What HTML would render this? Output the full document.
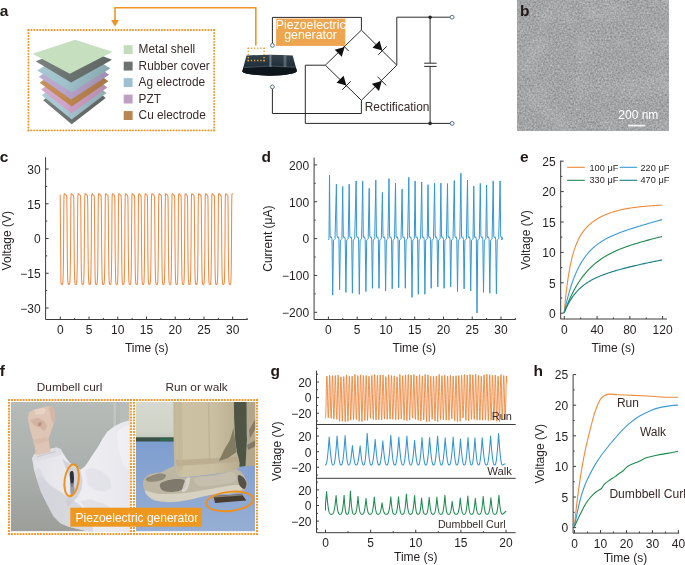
<!DOCTYPE html>
<html><head><meta charset="utf-8"><style>
html,body{margin:0;padding:0;background:#fff;width:685px;height:565px;overflow:hidden}
svg{display:block;font-family:"Liberation Sans",sans-serif;will-change:transform}
</style></head><body>
<svg width="685" height="565" viewBox="0 0 685 565">
<text x="-0.3" y="15.6" font-size="15.5" text-anchor="start" fill="#231818" font-weight="bold" >a</text>
<line x1="28.4" y1="30" x2="214.1" y2="30" stroke="#f09426" stroke-width="1.8" stroke-linecap="round" stroke-dasharray="0.3 2.6"/>
<line x1="28.4" y1="130.4" x2="214.1" y2="130.4" stroke="#f09426" stroke-width="1.8" stroke-linecap="round" stroke-dasharray="0.3 2.6"/>
<line x1="28.4" y1="30" x2="28.4" y2="130.4" stroke="#f09426" stroke-width="1.8" stroke-linecap="round" stroke-dasharray="0.3 2.65"/>
<line x1="214.1" y1="30" x2="214.1" y2="130.4" stroke="#f09426" stroke-width="1.8" stroke-linecap="round" stroke-dasharray="0.3 2.65"/>
<path d="M115,22 L115,7.8 L255.8,7.8 L255.8,45.6" fill="none" stroke="#ef9427" stroke-width="1.6"/>
<path d="M111.1,20.0 L118.9,20.0 L115,26.7 Z" fill="#ef9427"/>
<linearGradient id="lg0" x1="0" y1="0" x2="1" y2="0.3"><stop offset="0" stop-color="#7d8482"/><stop offset="0.55" stop-color="#6c7471"/><stop offset="1" stop-color="#5f6663"/></linearGradient>
<path d="M43.1,100.3 L71.7,124.2 L105.7,97.9 L77.1,74 Z" fill="url(#lg0)"/>
<linearGradient id="lg1" x1="0" y1="0" x2="1" y2="0.3"><stop offset="0" stop-color="#b0ccd5"/><stop offset="0.55" stop-color="#a6c6d0"/><stop offset="1" stop-color="#92aeb7"/></linearGradient>
<path d="M41.9,95.2 L71.7,119.4 L106.5,93.1 L76.7,68.9 Z" fill="url(#lg1)"/>
<linearGradient id="lg2" x1="0" y1="0" x2="1" y2="0.3"><stop offset="0" stop-color="#d5aece"/><stop offset="0.55" stop-color="#d0a3c8"/><stop offset="1" stop-color="#b78fb0"/></linearGradient>
<path d="M41.2,89.5 L71.7,113.5 L107.3,87.6 L76.8,63.6 Z" fill="url(#lg2)"/>
<linearGradient id="lg3" x1="0" y1="0" x2="1" y2="0.3"><stop offset="0" stop-color="#c79665"/><stop offset="0.55" stop-color="#c08850"/><stop offset="1" stop-color="#a87746"/></linearGradient>
<path d="M39.6,82.8 L71.7,106.4 L108.4,81.2 L76.3,57.6 Z" fill="url(#lg3)"/>
<linearGradient id="lg4" x1="0" y1="0" x2="1" y2="0.3"><stop offset="0" stop-color="#bfaed2"/><stop offset="0.55" stop-color="#b7a4cc"/><stop offset="1" stop-color="#a190b3"/></linearGradient>
<path d="M38.8,76.7 L71.1,99.5 L109.2,74.8 L76.9,52 Z" fill="url(#lg4)"/>
<linearGradient id="lg5" x1="0" y1="0" x2="1" y2="0.3"><stop offset="0" stop-color="#aac9d1"/><stop offset="0.55" stop-color="#9fc2cb"/><stop offset="1" stop-color="#8baab2"/></linearGradient>
<path d="M37.2,70.4 L71.7,92.3 L110.4,68.5 L75.9,46.6 Z" fill="url(#lg5)"/>
<linearGradient id="lg6" x1="0" y1="0" x2="1" y2="0.3"><stop offset="0" stop-color="#7e8582"/><stop offset="0.55" stop-color="#6d7572"/><stop offset="1" stop-color="#5f6664"/></linearGradient>
<path d="M35.6,61.3 L71.1,82.5 L112,59.7 L76.5,46 Z" fill="url(#lg6)"/>
<path d="M32.4,53.8 L75.1,39.8 L112.5,51.7 L69.8,73.7 Z" fill="#c6dfbf"/>
<rect x="123.7" y="45.2" width="8.9" height="8.9" fill="#c3dcbd"/>
<text x="138.6" y="53.25" font-size="11.85" text-anchor="start" fill="#3a2a2a" font-weight="normal" >Metal shell</text>
<rect x="123.7" y="61.67" width="8.9" height="8.9" fill="#6b726f"/>
<text x="138.6" y="69.72" font-size="11.85" text-anchor="start" fill="#3a2a2a" font-weight="normal" >Rubber cover</text>
<rect x="123.7" y="78.14" width="8.9" height="8.9" fill="#9dc1d3"/>
<text x="138.6" y="86.19" font-size="11.85" text-anchor="start" fill="#3a2a2a" font-weight="normal" >Ag electrode</text>
<rect x="123.7" y="94.61" width="8.9" height="8.9" fill="#bf9fc4"/>
<text x="138.6" y="102.66" font-size="11.85" text-anchor="start" fill="#3a2a2a" font-weight="normal" >PZT</text>
<rect x="123.7" y="111.08" width="8.9" height="8.9" fill="#bb8550"/>
<text x="138.6" y="119.13" font-size="11.85" text-anchor="start" fill="#3a2a2a" font-weight="normal" >Cu electrode</text>
<defs><linearGradient id="dev" x1="0" y1="0" x2="0" y2="1"><stop offset="0" stop-color="#34444f"/><stop offset="0.5" stop-color="#22313b"/><stop offset="1" stop-color="#141e25"/></linearGradient><linearGradient id="devh" x1="0" y1="0" x2="1" y2="0"><stop offset="0" stop-color="#fff" stop-opacity="0"/><stop offset="0.5" stop-color="#9fb2bd" stop-opacity="0.55"/><stop offset="1" stop-color="#fff" stop-opacity="0"/></linearGradient></defs>
<path d="M246.5,55.6 Q269.6,53.9 292.7,55.6 L296.9,70.9 Q296,74.6 269.4,75.8 Q243,74.6 242.2,71.4 Z" fill="url(#dev)"/>
<path d="M243.6,67.5 Q269.5,64.8 295.8,67.2 L296.9,70.9 Q296,74.6 269.4,75.8 Q243,74.6 242.2,71.4 Z" fill="#0e161c"/>
<path d="M243.6,67.5 Q269.5,64.8 295.8,67.2" fill="none" stroke="#7f8e98" stroke-width="0.6" opacity="0.8"/>
<rect x="268.8" y="55" width="3.2" height="12" fill="url(#devh)"/>
<rect x="283" y="55.5" width="4" height="11.5" fill="url(#devh)" opacity="0.8"/>
<line x1="247.65" y1="48.3" x2="264.75" y2="48.3" stroke="#f0a030" stroke-width="1.5" stroke-linecap="butt" stroke-dasharray="1.3 1.86"/>
<line x1="247.65" y1="60.6" x2="264.75" y2="60.6" stroke="#f0a030" stroke-width="1.5" stroke-linecap="butt" stroke-dasharray="1.3 1.86"/>
<line x1="248.3" y1="47.65" x2="248.3" y2="61.25" stroke="#f0a030" stroke-width="1.5" stroke-linecap="butt" stroke-dasharray="1.3 1.78"/>
<line x1="264.1" y1="47.65" x2="264.1" y2="61.25" stroke="#f0a030" stroke-width="1.5" stroke-linecap="butt" stroke-dasharray="1.3 1.78"/>
<g fill="none" stroke="#2a2a2a" stroke-width="1">
<path d="M272.4,43.4 L272.4,17.4 L361.4,17.4 L361.4,30.1"/>
<path d="M272.4,88.9 L272.4,113.5 L361.4,113.5 L361.4,100.3"/>
<path d="M361.4,30.1 L396.8,65.2 L361.4,100.3 L325.3,65.2 Z"/>
<path d="M325.3,65.2 L305.3,65.2 L305.3,123.4 L452,123.4"/>
<path d="M396.8,65.2 L396.8,17.2 L450,17.2"/>
<path d="M430.1,17.2 L430.1,63.2 M430.1,66.4 L430.1,123.4"/>
<path d="M424.2,63.2 L436.6,63.2 M424.2,66.4 L436.6,66.4"/>
</g>
<circle cx="430.1" cy="17.2" r="1.8" fill="#2a2a2a"/><circle cx="430.1" cy="123.4" r="1.8" fill="#2a2a2a"/>
<circle cx="272.4" cy="45.4" r="1.9" fill="#fff" stroke="#46657a" stroke-width="0.9"/>
<circle cx="272.4" cy="86.9" r="1.9" fill="#fff" stroke="#46657a" stroke-width="0.9"/>
<circle cx="452.1" cy="17.2" r="1.9" fill="#fff" stroke="#46657a" stroke-width="0.9"/>
<circle cx="452.1" cy="123.4" r="1.9" fill="#fff" stroke="#46657a" stroke-width="0.9"/>
<path d="M344.6,46.9 L341.77,56.8 L334.7,49.73 Z" fill="#111"/>
<line x1="348.84" y1="51.14" x2="340.36" y2="42.66" stroke="#222" stroke-width="1"/>
<path d="M382.4,50.6 L372.5,47.77 L379.57,40.7 Z" fill="#111"/>
<line x1="378.16" y1="54.84" x2="386.64" y2="46.36" stroke="#222" stroke-width="1"/>
<path d="M346.4,85.6 L336.5,82.77 L343.57,75.7 Z" fill="#111"/>
<line x1="342.16" y1="89.84" x2="350.64" y2="81.36" stroke="#222" stroke-width="1"/>
<path d="M381.8,81 L378.97,90.9 L371.9,83.83 Z" fill="#111"/>
<line x1="386.04" y1="85.24" x2="377.56" y2="76.76" stroke="#222" stroke-width="1"/>
<rect x="276.1" y="18.6" width="69.2" height="27.3" fill="#eea54f"/>
<text x="310.7" y="28.6" font-size="12.3" text-anchor="middle" fill="#fff" font-weight="normal" >Piezoelectric</text>
<text x="310.6" y="39.2" font-size="12.3" text-anchor="middle" fill="#fff" font-weight="normal" >generator</text>
<text x="364.7" y="111.2" font-size="11.9" text-anchor="start" fill="#3a2a2a" font-weight="normal" >Rectification</text>
<defs><filter id="noise" x="0" y="0" width="100%" height="100%" color-interpolation-filters="sRGB"><feTurbulence type="fractalNoise" baseFrequency="0.55" numOctaves="2" seed="7" result="t"/><feColorMatrix type="matrix" values="0.32 0 0 0 0.475  0.32 0 0 0 0.482  0.32 0 0 0 0.49  0 0 0 0 1" /></filter><filter id="noise2" x="0" y="0" width="100%" height="100%" color-interpolation-filters="sRGB"><feTurbulence type="fractalNoise" baseFrequency="0.04" numOctaves="2" seed="3"/><feColorMatrix type="matrix" values="0 0 0 0 1  0 0 0 0 1  0 0 0 0 1  1.2 0 0 0 -0.55" /></filter></defs>
<rect x="517.6" y="0" width="151.4" height="130.4" filter="url(#noise)"/>
<rect x="517.6" y="0" width="151.4" height="130.4" filter="url(#noise2)" opacity="0.25"/>
<text x="519.9" y="15.6" font-size="15.5" text-anchor="start" fill="#231818" font-weight="bold" >b</text>
<text x="618.3" y="118.8" font-size="12" text-anchor="start" fill="#fff" font-weight="normal" >200 nm</text>
<rect x="628.1" y="124.7" width="16.9" height="1.8" fill="#f4f4f4"/>
<text x="-0.3" y="161.6" font-size="15.5" text-anchor="start" fill="#231818" font-weight="bold" >c</text>
<line x1="45.6" y1="157.2" x2="45.6" y2="319.5" stroke="#3c3c3c" stroke-width="1"/>
<line x1="45.6" y1="169" x2="48.6" y2="169" stroke="#3c3c3c" stroke-width="1"/>
<text x="40.6" y="173.8" font-size="12" text-anchor="end" fill="#231f20" font-weight="normal" >30</text>
<line x1="45.6" y1="203.75" x2="48.6" y2="203.75" stroke="#3c3c3c" stroke-width="1"/>
<text x="40.6" y="208.55" font-size="12" text-anchor="end" fill="#231f20" font-weight="normal" >15</text>
<line x1="45.6" y1="238.5" x2="48.6" y2="238.5" stroke="#3c3c3c" stroke-width="1"/>
<text x="40.6" y="243.3" font-size="12" text-anchor="end" fill="#231f20" font-weight="normal" >0</text>
<line x1="45.6" y1="273.25" x2="48.6" y2="273.25" stroke="#3c3c3c" stroke-width="1"/>
<text x="40.6" y="278.05" font-size="12" text-anchor="end" fill="#231f20" font-weight="normal" >−15</text>
<line x1="45.6" y1="308" x2="48.6" y2="308" stroke="#3c3c3c" stroke-width="1"/>
<text x="40.6" y="312.8" font-size="12" text-anchor="end" fill="#231f20" font-weight="normal" >−30</text>
<line x1="45.6" y1="186.38" x2="47.2" y2="186.38" stroke="#3c3c3c" stroke-width="1"/>
<line x1="45.6" y1="221.12" x2="47.2" y2="221.12" stroke="#3c3c3c" stroke-width="1"/>
<line x1="45.6" y1="255.88" x2="47.2" y2="255.88" stroke="#3c3c3c" stroke-width="1"/>
<line x1="45.6" y1="290.62" x2="47.2" y2="290.62" stroke="#3c3c3c" stroke-width="1"/>
<line x1="45.6" y1="319.5" x2="247.7" y2="319.5" stroke="#3c3c3c" stroke-width="1"/>
<line x1="60.3" y1="319.5" x2="60.3" y2="316.5" stroke="#3c3c3c" stroke-width="1"/>
<text x="60.3" y="334.4" font-size="12" text-anchor="middle" fill="#231f20" font-weight="normal" >0</text>
<line x1="89.03" y1="319.5" x2="89.03" y2="316.5" stroke="#3c3c3c" stroke-width="1"/>
<text x="89.03" y="334.4" font-size="12" text-anchor="middle" fill="#231f20" font-weight="normal" >5</text>
<line x1="117.77" y1="319.5" x2="117.77" y2="316.5" stroke="#3c3c3c" stroke-width="1"/>
<text x="117.77" y="334.4" font-size="12" text-anchor="middle" fill="#231f20" font-weight="normal" >10</text>
<line x1="146.5" y1="319.5" x2="146.5" y2="316.5" stroke="#3c3c3c" stroke-width="1"/>
<text x="146.5" y="334.4" font-size="12" text-anchor="middle" fill="#231f20" font-weight="normal" >15</text>
<line x1="175.23" y1="319.5" x2="175.23" y2="316.5" stroke="#3c3c3c" stroke-width="1"/>
<text x="175.23" y="334.4" font-size="12" text-anchor="middle" fill="#231f20" font-weight="normal" >20</text>
<line x1="203.97" y1="319.5" x2="203.97" y2="316.5" stroke="#3c3c3c" stroke-width="1"/>
<text x="203.97" y="334.4" font-size="12" text-anchor="middle" fill="#231f20" font-weight="normal" >25</text>
<line x1="232.7" y1="319.5" x2="232.7" y2="316.5" stroke="#3c3c3c" stroke-width="1"/>
<text x="232.7" y="334.4" font-size="12" text-anchor="middle" fill="#231f20" font-weight="normal" >30</text>
<line x1="74.67" y1="319.5" x2="74.67" y2="317.9" stroke="#3c3c3c" stroke-width="1"/>
<line x1="103.4" y1="319.5" x2="103.4" y2="317.9" stroke="#3c3c3c" stroke-width="1"/>
<line x1="132.13" y1="319.5" x2="132.13" y2="317.9" stroke="#3c3c3c" stroke-width="1"/>
<line x1="160.87" y1="319.5" x2="160.87" y2="317.9" stroke="#3c3c3c" stroke-width="1"/>
<line x1="189.6" y1="319.5" x2="189.6" y2="317.9" stroke="#3c3c3c" stroke-width="1"/>
<line x1="218.33" y1="319.5" x2="218.33" y2="317.9" stroke="#3c3c3c" stroke-width="1"/>
<line x1="247.07" y1="319.5" x2="247.07" y2="317.9" stroke="#3c3c3c" stroke-width="1"/>
<text x="146.7" y="351.5" font-size="12" text-anchor="middle" fill="#231f20" font-weight="normal" >Time (s)</text>
<text x="0" y="0" font-size="12" text-anchor="middle" fill="#231f20" transform="translate(11,240.7) rotate(-90)">Voltage (V)</text>
<path d="M60.2,194.6 L60.9,281.61 L61,282.62 L61.1,283.29 L61.2,283.75 L61.3,284.05 L61.4,284.26 L61.5,284.4 L61.6,284.5 L61.7,284.56 L61.8,284.59 L61.9,284.6 L62,284.59 L62.1,284.56 L62.2,284.5 L62.3,284.4 L62.4,284.26 L62.5,284.05 L62.6,283.75 L62.7,283.29 L62.8,282.62 L62.9,281.61 L63,280.09 L63.1,277.8 L63.2,274.42 L63.3,269.54 L63.4,262.81 L63.5,254.14 L63.6,243.91 L63.7,226.81 L63.8,209.82 L63.9,200.47 L64,196.34 L64.1,194.68 L64.2,194.04 L64.3,193.82 L64.4,193.76 L64.5,193.77 L64.6,193.82 L64.7,193.88 L64.8,193.95 L64.9,194.03 L65,194.12 L65.1,194.21 L65.2,194.3 L65.3,194.39 L65.4,194.48 L65.5,194.58 L65.6,194.67 L65.7,194.76 L65.8,194.85 L65.9,194.94 L66,195.02 L66.1,195.11 L66.2,195.19 L66.3,195.28 L66.4,195.39 L66.5,195.56 L66.6,195.88 L66.7,196.59 L66.8,198.32 L66.9,202.51 L67,211.88 L67.1,228.89 L67.2,243.91 L67.3,254.14 L67.4,262.81 L67.5,269.54 L67.6,274.42 L67.7,277.8 L67.8,280.09 L67.9,281.61 L68,282.62 L68.1,283.29 L68.2,283.75 L68.3,284.05 L68.4,284.26 L68.5,284.4 L68.6,284.5 L68.7,284.56 L68.8,284.59 L68.9,284.6 L69,284.59 L69.1,284.56 L69.2,284.49 L69.3,284.4 L69.4,284.25 L69.5,284.03 L69.6,283.71 L69.7,283.23 L69.8,282.51 L69.9,281.42 L70,279.78 L70.1,277.3 L70.2,273.63 L70.3,268.34 L70.4,261.09 L70.5,251.88 L70.6,241.26 L70.7,221.67 L70.8,206.54 L70.9,198.88 L71,195.66 L71.1,194.4 L71.2,193.94 L71.3,193.78 L71.4,193.76 L71.5,193.79 L71.6,193.84 L71.7,193.91 L71.8,193.99 L71.9,194.07 L72,194.16 L72.1,194.25 L72.2,194.34 L72.3,194.44 L72.4,194.53 L72.5,194.63 L72.6,194.72 L72.7,194.81 L72.8,194.9 L72.9,194.99 L73,195.07 L73.1,195.16 L73.2,195.24 L73.3,195.35 L73.4,195.49 L73.5,195.74 L73.6,196.3 L73.7,197.62 L73.8,200.9 L73.9,208.59 L74,223.75 L74.1,241.26 L74.2,251.88 L74.3,261.09 L74.4,268.34 L74.5,273.63 L74.6,277.3 L74.7,279.78 L74.8,281.42 L74.9,282.51 L75,283.23 L75.1,283.71 L75.2,284.03 L75.3,284.25 L75.4,284.4 L75.5,284.49 L75.6,284.56 L75.7,284.59 L75.8,284.6 L75.9,284.59 L76,284.56 L76.1,284.49 L76.2,284.4 L76.3,284.25 L76.4,284.03 L76.5,283.71 L76.6,283.23 L76.7,282.51 L76.8,281.42 L76.9,279.78 L77,277.3 L77.1,273.63 L77.2,268.34 L77.3,261.09 L77.4,251.88 L77.5,241.26 L77.6,221.67 L77.7,206.54 L77.8,198.88 L77.9,195.66 L78,194.4 L78.1,193.94 L78.2,193.78 L78.3,193.76 L78.4,193.79 L78.5,193.84 L78.6,193.91 L78.7,193.99 L78.8,194.07 L78.9,194.16 L79,194.25 L79.1,194.34 L79.2,194.44 L79.3,194.53 L79.4,194.63 L79.5,194.72 L79.6,194.81 L79.7,194.9 L79.8,194.99 L79.9,195.07 L80,195.16 L80.1,195.24 L80.2,195.35 L80.3,195.49 L80.4,195.74 L80.5,196.3 L80.6,197.62 L80.7,200.9 L80.8,208.59 L80.9,223.75 L81,241.26 L81.1,251.88 L81.2,261.09 L81.3,268.34 L81.4,273.63 L81.5,277.3 L81.6,279.78 L81.7,281.42 L81.8,282.51 L81.9,283.23 L82,283.71 L82.1,284.03 L82.2,284.25 L82.3,284.4 L82.4,284.49 L82.5,284.56 L82.6,284.59 L82.7,284.6 L82.8,284.59 L82.9,284.56 L83,284.5 L83.1,284.4 L83.2,284.26 L83.3,284.05 L83.4,283.75 L83.5,283.29 L83.6,282.62 L83.7,281.61 L83.8,280.09 L83.9,277.8 L84,274.42 L84.1,269.54 L84.2,262.81 L84.3,254.14 L84.4,243.91 L84.5,226.81 L84.6,209.82 L84.7,200.47 L84.8,196.34 L84.9,194.68 L85,194.04 L85.1,193.82 L85.2,193.76 L85.3,193.77 L85.4,193.82 L85.5,193.88 L85.6,193.95 L85.7,194.03 L85.8,194.12 L85.9,194.21 L86,194.3 L86.1,194.39 L86.2,194.48 L86.3,194.58 L86.4,194.67 L86.5,194.76 L86.6,194.85 L86.7,194.94 L86.8,195.02 L86.9,195.11 L87,195.19 L87.1,195.28 L87.2,195.39 L87.3,195.56 L87.4,195.88 L87.5,196.59 L87.6,198.32 L87.7,202.51 L87.8,211.88 L87.9,228.89 L88,243.91 L88.1,254.14 L88.2,262.81 L88.3,269.54 L88.4,274.42 L88.5,277.8 L88.6,280.09 L88.7,281.61 L88.8,282.62 L88.9,283.29 L89,283.75 L89.1,284.05 L89.2,284.26 L89.3,284.4 L89.4,284.5 L89.5,284.56 L89.6,284.59 L89.7,284.6 L89.8,284.59 L89.9,284.55 L90,284.48 L90.1,284.37 L90.2,284.21 L90.3,283.95 L90.4,283.57 L90.5,283 L90.6,282.12 L90.7,280.76 L90.8,278.67 L90.9,275.47 L91,270.72 L91.1,263.96 L91.2,255 L91.3,244.24 L91.4,226.2 L91.5,208.67 L91.6,199.59 L91.7,195.84 L91.8,194.44 L91.9,193.94 L92,193.78 L92.1,193.76 L92.2,193.79 L92.3,193.85 L92.4,193.93 L92.5,194.01 L92.6,194.1 L92.7,194.19 L92.8,194.29 L92.9,194.38 L93,194.48 L93.1,194.58 L93.2,194.68 L93.3,194.78 L93.4,194.87 L93.5,194.96 L93.6,195.05 L93.7,195.14 L93.8,195.23 L93.9,195.34 L94,195.48 L94.1,195.74 L94.2,196.33 L94.3,197.81 L94.4,201.62 L94.5,210.73 L94.6,228.28 L94.7,244.24 L94.8,255 L94.9,263.96 L95,270.72 L95.1,275.47 L95.2,278.67 L95.3,280.76 L95.4,282.12 L95.5,283 L95.6,283.57 L95.7,283.95 L95.8,284.21 L95.9,284.37 L96,284.48 L96.1,284.55 L96.2,284.59 L96.3,284.6 L96.4,284.59 L96.5,284.56 L96.6,284.5 L96.7,284.4 L96.8,284.26 L96.9,284.05 L97,283.75 L97.1,283.29 L97.2,282.62 L97.3,281.61 L97.4,280.09 L97.5,277.8 L97.6,274.42 L97.7,269.54 L97.8,262.81 L97.9,254.14 L98,243.91 L98.1,226.81 L98.2,209.82 L98.3,200.47 L98.4,196.34 L98.5,194.68 L98.6,194.04 L98.7,193.82 L98.8,193.76 L98.9,193.77 L99,193.82 L99.1,193.88 L99.2,193.95 L99.3,194.03 L99.4,194.12 L99.5,194.21 L99.6,194.3 L99.7,194.39 L99.8,194.48 L99.9,194.58 L100,194.67 L100.1,194.76 L100.2,194.85 L100.3,194.94 L100.4,195.02 L100.5,195.11 L100.6,195.19 L100.7,195.28 L100.8,195.39 L100.9,195.56 L101,195.88 L101.1,196.59 L101.2,198.32 L101.3,202.51 L101.4,211.88 L101.5,228.89 L101.6,243.91 L101.7,254.14 L101.8,262.81 L101.9,269.54 L102,274.42 L102.1,277.8 L102.2,280.09 L102.3,281.61 L102.4,282.62 L102.5,283.29 L102.6,283.75 L102.7,284.05 L102.8,284.26 L102.9,284.4 L103,284.5 L103.1,284.56 L103.2,284.59 L103.3,284.6 L103.4,284.59 L103.5,284.56 L103.6,284.49 L103.7,284.4 L103.8,284.25 L103.9,284.03 L104,283.71 L104.1,283.23 L104.2,282.51 L104.3,281.42 L104.4,279.78 L104.5,277.3 L104.6,273.63 L104.7,268.34 L104.8,261.09 L104.9,251.88 L105,241.26 L105.1,221.67 L105.2,206.54 L105.3,198.88 L105.4,195.66 L105.5,194.4 L105.6,193.94 L105.7,193.78 L105.8,193.76 L105.9,193.79 L106,193.84 L106.1,193.91 L106.2,193.99 L106.3,194.07 L106.4,194.16 L106.5,194.25 L106.6,194.34 L106.7,194.44 L106.8,194.53 L106.9,194.63 L107,194.72 L107.1,194.81 L107.2,194.9 L107.3,194.99 L107.4,195.07 L107.5,195.16 L107.6,195.24 L107.7,195.35 L107.8,195.49 L107.9,195.74 L108,196.3 L108.1,197.62 L108.2,200.9 L108.3,208.59 L108.4,223.75 L108.5,241.26 L108.6,251.88 L108.7,261.09 L108.8,268.34 L108.9,273.63 L109,277.3 L109.1,279.78 L109.2,281.42 L109.3,282.51 L109.4,283.23 L109.5,283.71 L109.6,284.03 L109.7,284.25 L109.8,284.4 L109.9,284.49 L110,284.56 L110.1,284.59 L110.2,284.6 L110.3,284.59 L110.4,284.55 L110.5,284.48 L110.6,284.36 L110.7,284.19 L110.8,283.92 L110.9,283.52 L111,282.91 L111.1,281.96 L111.2,280.49 L111.3,278.22 L111.4,274.73 L111.5,269.54 L111.6,262.21 L111.7,252.65 L111.8,241.42 L111.9,220.8 L112,205.4 L112.1,198.11 L112.2,195.25 L112.3,194.21 L112.4,193.86 L112.5,193.76 L112.6,193.77 L112.7,193.81 L112.8,193.88 L112.9,193.96 L113,194.05 L113.1,194.14 L113.2,194.23 L113.3,194.33 L113.4,194.43 L113.5,194.53 L113.6,194.63 L113.7,194.73 L113.8,194.83 L113.9,194.93 L114,195.02 L114.1,195.11 L114.2,195.2 L114.3,195.29 L114.4,195.42 L114.5,195.63 L114.6,196.08 L114.7,197.2 L114.8,200.12 L114.9,207.45 L115,222.88 L115.1,241.42 L115.2,252.65 L115.3,262.21 L115.4,269.54 L115.5,274.73 L115.6,278.22 L115.7,280.49 L115.8,281.96 L115.9,282.91 L116,283.52 L116.1,283.92 L116.2,284.19 L116.3,284.36 L116.4,284.48 L116.5,284.55 L116.6,284.59 L116.7,284.6 L116.8,284.59 L116.9,284.55 L117,284.48 L117.1,284.36 L117.2,284.19 L117.3,283.92 L117.4,283.52 L117.5,282.91 L117.6,281.96 L117.7,280.49 L117.8,278.22 L117.9,274.73 L118,269.54 L118.1,262.21 L118.2,252.65 L118.3,241.42 L118.4,220.8 L118.5,205.4 L118.6,198.11 L118.7,195.25 L118.8,194.21 L118.9,193.86 L119,193.76 L119.1,193.77 L119.2,193.81 L119.3,193.88 L119.4,193.96 L119.5,194.05 L119.6,194.14 L119.7,194.23 L119.8,194.33 L119.9,194.43 L120,194.53 L120.1,194.63 L120.2,194.73 L120.3,194.83 L120.4,194.93 L120.5,195.02 L120.6,195.11 L120.7,195.2 L120.8,195.29 L120.9,195.42 L121,195.63 L121.1,196.08 L121.2,197.2 L121.3,200.12 L121.4,207.45 L121.5,222.88 L121.6,241.42 L121.7,252.65 L121.8,262.21 L121.9,269.54 L122,274.73 L122.1,278.22 L122.2,280.49 L122.3,281.96 L122.4,282.91 L122.5,283.52 L122.6,283.92 L122.7,284.19 L122.8,284.36 L122.9,284.48 L123,284.55 L123.1,284.59 L123.2,284.6 L123.3,284.59 L123.4,284.55 L123.5,284.49 L123.6,284.38 L123.7,284.22 L123.8,283.98 L123.9,283.62 L124,283.08 L124.1,282.26 L124.2,281 L124.3,279.08 L124.4,276.15 L124.5,271.79 L124.6,265.56 L124.7,257.19 L124.8,246.92 L124.9,231.81 L125,212.5 L125.1,201.46 L125.2,196.62 L125.3,194.74 L125.4,194.05 L125.5,193.81 L125.6,193.76 L125.7,193.78 L125.8,193.83 L125.9,193.9 L126,193.97 L126.1,194.06 L126.2,194.15 L126.3,194.24 L126.4,194.34 L126.5,194.43 L126.6,194.53 L126.7,194.63 L126.8,194.73 L126.9,194.82 L127,194.91 L127.1,195 L127.2,195.09 L127.3,195.18 L127.4,195.27 L127.5,195.38 L127.6,195.55 L127.7,195.88 L127.8,196.66 L127.9,198.61 L128,203.5 L128.1,214.57 L128.2,233.9 L128.3,246.92 L128.4,257.19 L128.5,265.56 L128.6,271.79 L128.7,276.15 L128.8,279.08 L128.9,281 L129,282.26 L129.1,283.08 L129.2,283.62 L129.3,283.98 L129.4,284.22 L129.5,284.38 L129.6,284.49 L129.7,284.55 L129.8,284.59 L129.9,284.6 L130,284.59 L130.1,284.55 L130.2,284.49 L130.3,284.38 L130.4,284.22 L130.5,283.98 L130.6,283.62 L130.7,283.08 L130.8,282.26 L130.9,281 L131,279.08 L131.1,276.15 L131.2,271.79 L131.3,265.56 L131.4,257.19 L131.5,246.92 L131.6,231.81 L131.7,212.5 L131.8,201.46 L131.9,196.62 L132,194.74 L132.1,194.05 L132.2,193.81 L132.3,193.76 L132.4,193.78 L132.5,193.83 L132.6,193.9 L132.7,193.97 L132.8,194.06 L132.9,194.15 L133,194.24 L133.1,194.34 L133.2,194.43 L133.3,194.53 L133.4,194.63 L133.5,194.73 L133.6,194.82 L133.7,194.91 L133.8,195 L133.9,195.09 L134,195.18 L134.1,195.27 L134.2,195.38 L134.3,195.55 L134.4,195.88 L134.5,196.66 L134.6,198.61 L134.7,203.5 L134.8,214.57 L134.9,233.9 L135,246.92 L135.1,257.19 L135.2,265.56 L135.3,271.79 L135.4,276.15 L135.5,279.08 L135.6,281 L135.7,282.26 L135.8,283.08 L135.9,283.62 L136,283.98 L136.1,284.22 L136.2,284.38 L136.3,284.49 L136.4,284.55 L136.5,284.59 L136.6,284.6 L136.7,284.59 L136.8,284.55 L136.9,284.48 L137,284.36 L137.1,284.19 L137.2,283.92 L137.3,283.52 L137.4,282.91 L137.5,281.96 L137.6,280.49 L137.7,278.22 L137.8,274.73 L137.9,269.54 L138,262.21 L138.1,252.65 L138.2,241.42 L138.3,220.8 L138.4,205.4 L138.5,198.11 L138.6,195.25 L138.7,194.21 L138.8,193.86 L138.9,193.76 L139,193.77 L139.1,193.81 L139.2,193.88 L139.3,193.96 L139.4,194.05 L139.5,194.14 L139.6,194.23 L139.7,194.33 L139.8,194.43 L139.9,194.53 L140,194.63 L140.1,194.73 L140.2,194.83 L140.3,194.93 L140.4,195.02 L140.5,195.11 L140.6,195.2 L140.7,195.29 L140.8,195.42 L140.9,195.63 L141,196.08 L141.1,197.2 L141.2,200.12 L141.3,207.45 L141.4,222.88 L141.5,241.42 L141.6,252.65 L141.7,262.21 L141.8,269.54 L141.9,274.73 L142,278.22 L142.1,280.49 L142.2,281.96 L142.3,282.91 L142.4,283.52 L142.5,283.92 L142.6,284.19 L142.7,284.36 L142.8,284.48 L142.9,284.55 L143,284.59 L143.1,284.6 L143.2,284.59 L143.3,284.54 L143.4,284.46 L143.5,284.34 L143.6,284.14 L143.7,283.83 L143.8,283.34 L143.9,282.59 L144,281.4 L144.1,279.51 L144.2,276.54 L144.3,271.96 L144.4,265.2 L144.5,255.96 L144.6,244.6 L144.7,225.5 L144.8,207.45 L144.9,198.73 L145,195.39 L145.1,194.23 L145.2,193.86 L145.3,193.76 L145.4,193.77 L145.5,193.82 L145.6,193.9 L145.7,193.98 L145.8,194.07 L145.9,194.17 L146,194.27 L146.1,194.38 L146.2,194.48 L146.3,194.59 L146.4,194.69 L146.5,194.8 L146.6,194.9 L146.7,194.99 L146.8,195.09 L146.9,195.18 L147,195.28 L147.1,195.41 L147.2,195.63 L147.3,196.11 L147.4,197.35 L147.5,200.75 L147.6,209.51 L147.7,227.59 L147.8,244.6 L147.9,255.96 L148,265.2 L148.1,271.96 L148.2,276.54 L148.3,279.51 L148.4,281.4 L148.5,282.59 L148.6,283.34 L148.7,283.83 L148.8,284.14 L148.9,284.34 L149,284.46 L149.1,284.54 L149.2,284.59 L149.3,284.6 L149.4,284.59 L149.5,284.56 L149.6,284.51 L149.7,284.43 L149.8,284.31 L149.9,284.14 L150,283.9 L150.1,283.56 L150.2,283.05 L150.3,282.33 L150.4,281.26 L150.5,279.7 L150.6,277.42 L150.7,274.15 L150.8,269.54 L150.9,263.32 L151,255.4 L151.1,246.04 L151.2,232.41 L151.3,214.62 L151.4,203.4 L151.5,197.82 L151.6,195.37 L151.7,194.35 L151.8,193.94 L151.9,193.79 L152,193.76 L152.1,193.78 L152.2,193.82 L152.3,193.88 L152.4,193.95 L152.5,194.02 L152.6,194.1 L152.7,194.18 L152.8,194.27 L152.9,194.35 L153,194.44 L153.1,194.53 L153.2,194.61 L153.3,194.7 L153.4,194.79 L153.5,194.87 L153.6,194.95 L153.7,195.03 L153.8,195.11 L153.9,195.18 L154,195.27 L154.1,195.36 L154.2,195.5 L154.3,195.74 L154.4,196.23 L154.5,197.32 L154.6,199.83 L154.7,205.45 L154.8,216.69 L154.9,234.49 L155,246.04 L155.1,255.4 L155.2,263.32 L155.3,269.54 L155.4,274.15 L155.5,277.42 L155.6,279.7 L155.7,281.26 L155.8,282.33 L155.9,283.05 L156,283.56 L156.1,283.9 L156.2,284.14 L156.3,284.31 L156.4,284.43 L156.5,284.51 L156.6,284.56 L156.7,284.59 L156.8,284.6 L156.9,284.59 L157,284.55 L157.1,284.48 L157.2,284.37 L157.3,284.21 L157.4,283.95 L157.5,283.57 L157.6,283 L157.7,282.12 L157.8,280.76 L157.9,278.67 L158,275.47 L158.1,270.72 L158.2,263.96 L158.3,255 L158.4,244.24 L158.5,226.2 L158.6,208.67 L158.7,199.59 L158.8,195.84 L158.9,194.44 L159,193.94 L159.1,193.78 L159.2,193.76 L159.3,193.79 L159.4,193.85 L159.5,193.93 L159.6,194.01 L159.7,194.1 L159.8,194.19 L159.9,194.29 L160,194.38 L160.1,194.48 L160.2,194.58 L160.3,194.68 L160.4,194.78 L160.5,194.87 L160.6,194.96 L160.7,195.05 L160.8,195.14 L160.9,195.23 L161,195.34 L161.1,195.48 L161.2,195.74 L161.3,196.33 L161.4,197.81 L161.5,201.62 L161.6,210.73 L161.7,228.28 L161.8,244.24 L161.9,255 L162,263.96 L162.1,270.72 L162.2,275.47 L162.3,278.67 L162.4,280.76 L162.5,282.12 L162.6,283 L162.7,283.57 L162.8,283.95 L162.9,284.21 L163,284.37 L163.1,284.48 L163.2,284.55 L163.3,284.59 L163.4,284.6 L163.5,284.59 L163.6,284.55 L163.7,284.48 L163.8,284.37 L163.9,284.21 L164,283.95 L164.1,283.57 L164.2,283 L164.3,282.12 L164.4,280.76 L164.5,278.67 L164.6,275.47 L164.7,270.72 L164.8,263.96 L164.9,255 L165,244.24 L165.1,226.2 L165.2,208.67 L165.3,199.59 L165.4,195.84 L165.5,194.44 L165.6,193.94 L165.7,193.78 L165.8,193.76 L165.9,193.79 L166,193.85 L166.1,193.93 L166.2,194.01 L166.3,194.1 L166.4,194.19 L166.5,194.29 L166.6,194.38 L166.7,194.48 L166.8,194.58 L166.9,194.68 L167,194.78 L167.1,194.87 L167.2,194.96 L167.3,195.05 L167.4,195.14 L167.5,195.23 L167.6,195.34 L167.7,195.48 L167.8,195.74 L167.9,196.33 L168,197.81 L168.1,201.62 L168.2,210.73 L168.3,228.28 L168.4,244.24 L168.5,255 L168.6,263.96 L168.7,270.72 L168.8,275.47 L168.9,278.67 L169,280.76 L169.1,282.12 L169.2,283 L169.3,283.57 L169.4,283.95 L169.5,284.21 L169.6,284.37 L169.7,284.48 L169.8,284.55 L169.9,284.59 L170,284.6 L170.1,284.59 L170.2,284.55 L170.3,284.48 L170.4,284.37 L170.5,284.21 L170.6,283.95 L170.7,283.57 L170.8,283 L170.9,282.12 L171,280.76 L171.1,278.67 L171.2,275.47 L171.3,270.72 L171.4,263.96 L171.5,255 L171.6,244.24 L171.7,226.2 L171.8,208.67 L171.9,199.59 L172,195.84 L172.1,194.44 L172.2,193.94 L172.3,193.78 L172.4,193.76 L172.5,193.79 L172.6,193.85 L172.7,193.93 L172.8,194.01 L172.9,194.1 L173,194.19 L173.1,194.29 L173.2,194.38 L173.3,194.48 L173.4,194.58 L173.5,194.68 L173.6,194.78 L173.7,194.87 L173.8,194.96 L173.9,195.05 L174,195.14 L174.1,195.23 L174.2,195.34 L174.3,195.48 L174.4,195.74 L174.5,196.33 L174.6,197.81 L174.7,201.62 L174.8,210.73 L174.9,228.28 L175,244.24 L175.1,255 L175.2,263.96 L175.3,270.72 L175.4,275.47 L175.5,278.67 L175.6,280.76 L175.7,282.12 L175.8,283 L175.9,283.57 L176,283.95 L176.1,284.21 L176.2,284.37 L176.3,284.48 L176.4,284.55 L176.5,284.59 L176.6,284.6 L176.7,284.59 L176.8,284.55 L176.9,284.48 L177,284.36 L177.1,284.19 L177.2,283.92 L177.3,283.52 L177.4,282.91 L177.5,281.96 L177.6,280.49 L177.7,278.22 L177.8,274.73 L177.9,269.54 L178,262.21 L178.1,252.65 L178.2,241.42 L178.3,220.8 L178.4,205.4 L178.5,198.11 L178.6,195.25 L178.7,194.21 L178.8,193.86 L178.9,193.76 L179,193.77 L179.1,193.81 L179.2,193.88 L179.3,193.96 L179.4,194.05 L179.5,194.14 L179.6,194.23 L179.7,194.33 L179.8,194.43 L179.9,194.53 L180,194.63 L180.1,194.73 L180.2,194.83 L180.3,194.93 L180.4,195.02 L180.5,195.11 L180.6,195.2 L180.7,195.29 L180.8,195.42 L180.9,195.63 L181,196.08 L181.1,197.2 L181.2,200.12 L181.3,207.45 L181.4,222.88 L181.5,241.42 L181.6,252.65 L181.7,262.21 L181.8,269.54 L181.9,274.73 L182,278.22 L182.1,280.49 L182.2,281.96 L182.3,282.91 L182.4,283.52 L182.5,283.92 L182.6,284.19 L182.7,284.36 L182.8,284.48 L182.9,284.55 L183,284.59 L183.1,284.6 L183.2,284.59 L183.3,284.55 L183.4,284.47 L183.5,284.35 L183.6,284.15 L183.7,283.86 L183.8,283.41 L183.9,282.71 L184,281.61 L184.1,279.88 L184.2,277.16 L184.3,272.98 L184.4,266.79 L184.5,258.22 L184.6,247.44 L184.7,231.46 L184.8,211.32 L184.9,200.47 L185,196.07 L185.1,194.48 L185.2,193.94 L185.3,193.78 L185.4,193.76 L185.5,193.8 L185.6,193.87 L185.7,193.95 L185.8,194.03 L185.9,194.13 L186,194.23 L186.1,194.33 L186.2,194.43 L186.3,194.54 L186.4,194.64 L186.5,194.74 L186.6,194.84 L186.7,194.94 L186.8,195.03 L186.9,195.13 L187,195.22 L187.1,195.32 L187.2,195.47 L187.3,195.74 L187.4,196.38 L187.5,198.04 L187.6,202.51 L187.7,213.39 L187.8,233.54 L187.9,247.44 L188,258.22 L188.1,266.79 L188.2,272.98 L188.3,277.16 L188.4,279.88 L188.5,281.61 L188.6,282.71 L188.7,283.41 L188.8,283.86 L188.9,284.15 L189,284.35 L189.1,284.47 L189.2,284.55 L189.3,284.59 L189.4,284.6 L189.5,284.59 L189.6,284.56 L189.7,284.49 L189.8,284.4 L189.9,284.25 L190,284.03 L190.1,283.71 L190.2,283.23 L190.3,282.51 L190.4,281.42 L190.5,279.78 L190.6,277.3 L190.7,273.63 L190.8,268.34 L190.9,261.09 L191,251.88 L191.1,241.26 L191.2,221.67 L191.3,206.54 L191.4,198.88 L191.5,195.66 L191.6,194.4 L191.7,193.94 L191.8,193.78 L191.9,193.76 L192,193.79 L192.1,193.84 L192.2,193.91 L192.3,193.99 L192.4,194.07 L192.5,194.16 L192.6,194.25 L192.7,194.34 L192.8,194.44 L192.9,194.53 L193,194.63 L193.1,194.72 L193.2,194.81 L193.3,194.9 L193.4,194.99 L193.5,195.07 L193.6,195.16 L193.7,195.24 L193.8,195.35 L193.9,195.49 L194,195.74 L194.1,196.3 L194.2,197.62 L194.3,200.9 L194.4,208.59 L194.5,223.75 L194.6,241.26 L194.7,251.88 L194.8,261.09 L194.9,268.34 L195,273.63 L195.1,277.3 L195.2,279.78 L195.3,281.42 L195.4,282.51 L195.5,283.23 L195.6,283.71 L195.7,284.03 L195.8,284.25 L195.9,284.4 L196,284.49 L196.1,284.56 L196.2,284.59 L196.3,284.6 L196.4,284.59 L196.5,284.56 L196.6,284.5 L196.7,284.4 L196.8,284.26 L196.9,284.05 L197,283.75 L197.1,283.29 L197.2,282.62 L197.3,281.61 L197.4,280.09 L197.5,277.8 L197.6,274.42 L197.7,269.54 L197.8,262.81 L197.9,254.14 L198,243.91 L198.1,226.81 L198.2,209.82 L198.3,200.47 L198.4,196.34 L198.5,194.68 L198.6,194.04 L198.7,193.82 L198.8,193.76 L198.9,193.77 L199,193.82 L199.1,193.88 L199.2,193.95 L199.3,194.03 L199.4,194.12 L199.5,194.21 L199.6,194.3 L199.7,194.39 L199.8,194.48 L199.9,194.58 L200,194.67 L200.1,194.76 L200.2,194.85 L200.3,194.94 L200.4,195.02 L200.5,195.11 L200.6,195.19 L200.7,195.28 L200.8,195.39 L200.9,195.56 L201,195.88 L201.1,196.59 L201.2,198.32 L201.3,202.51 L201.4,211.88 L201.5,228.89 L201.6,243.91 L201.7,254.14 L201.8,262.81 L201.9,269.54 L202,274.42 L202.1,277.8 L202.2,280.09 L202.3,281.61 L202.4,282.62 L202.5,283.29 L202.6,283.75 L202.7,284.05 L202.8,284.26 L202.9,284.4 L203,284.5 L203.1,284.56 L203.2,284.59 L203.3,284.6 L203.4,284.59 L203.5,284.55 L203.6,284.48 L203.7,284.37 L203.8,284.21 L203.9,283.95 L204,283.57 L204.1,283 L204.2,282.12 L204.3,280.76 L204.4,278.67 L204.5,275.47 L204.6,270.72 L204.7,263.96 L204.8,255 L204.9,244.24 L205,226.2 L205.1,208.67 L205.2,199.59 L205.3,195.84 L205.4,194.44 L205.5,193.94 L205.6,193.78 L205.7,193.76 L205.8,193.79 L205.9,193.85 L206,193.93 L206.1,194.01 L206.2,194.1 L206.3,194.19 L206.4,194.29 L206.5,194.38 L206.6,194.48 L206.7,194.58 L206.8,194.68 L206.9,194.78 L207,194.87 L207.1,194.96 L207.2,195.05 L207.3,195.14 L207.4,195.23 L207.5,195.34 L207.6,195.48 L207.7,195.74 L207.8,196.33 L207.9,197.81 L208,201.62 L208.1,210.73 L208.2,228.28 L208.3,244.24 L208.4,255 L208.5,263.96 L208.6,270.72 L208.7,275.47 L208.8,278.67 L208.9,280.76 L209,282.12 L209.1,283 L209.2,283.57 L209.3,283.95 L209.4,284.21 L209.5,284.37 L209.6,284.48 L209.7,284.55 L209.8,284.59 L209.9,284.6 L210,284.59 L210.1,284.55 L210.2,284.48 L210.3,284.36 L210.4,284.19 L210.5,283.92 L210.6,283.52 L210.7,282.91 L210.8,281.96 L210.9,280.49 L211,278.22 L211.1,274.73 L211.2,269.54 L211.3,262.21 L211.4,252.65 L211.5,241.42 L211.6,220.8 L211.7,205.4 L211.8,198.11 L211.9,195.25 L212,194.21 L212.1,193.86 L212.2,193.76 L212.3,193.77 L212.4,193.81 L212.5,193.88 L212.6,193.96 L212.7,194.05 L212.8,194.14 L212.9,194.23 L213,194.33 L213.1,194.43 L213.2,194.53 L213.3,194.63 L213.4,194.73 L213.5,194.83 L213.6,194.93 L213.7,195.02 L213.8,195.11 L213.9,195.2 L214,195.29 L214.1,195.42 L214.2,195.63 L214.3,196.08 L214.4,197.2 L214.5,200.12 L214.6,207.45 L214.7,222.88 L214.8,241.42 L214.9,252.65 L215,262.21 L215.1,269.54 L215.2,274.73 L215.3,278.22 L215.4,280.49 L215.5,281.96 L215.6,282.91 L215.7,283.52 L215.8,283.92 L215.9,284.19 L216,284.36 L216.1,284.48 L216.2,284.55 L216.3,284.59 L216.4,284.6 L216.5,284.59 L216.6,284.56 L216.7,284.5 L216.8,284.4 L216.9,284.26 L217,284.05 L217.1,283.75 L217.2,283.29 L217.3,282.62 L217.4,281.61 L217.5,280.09 L217.6,277.8 L217.7,274.42 L217.8,269.54 L217.9,262.81 L218,254.14 L218.1,243.91 L218.2,226.81 L218.3,209.82 L218.4,200.47 L218.5,196.34 L218.6,194.68 L218.7,194.04 L218.8,193.82 L218.9,193.76 L219,193.77 L219.1,193.82 L219.2,193.88 L219.3,193.95 L219.4,194.03 L219.5,194.12 L219.6,194.21 L219.7,194.3 L219.8,194.39 L219.9,194.48 L220,194.58 L220.1,194.67 L220.2,194.76 L220.3,194.85 L220.4,194.94 L220.5,195.02 L220.6,195.11 L220.7,195.19 L220.8,195.28 L220.9,195.39 L221,195.56 L221.1,195.88 L221.2,196.59 L221.3,198.32 L221.4,202.51 L221.5,211.88 L221.6,228.89 L221.7,243.91 L221.8,254.14 L221.9,262.81 L222,269.54 L222.1,274.42 L222.2,277.8 L222.3,280.09 L222.4,281.61 L222.5,282.62 L222.6,283.29 L222.7,283.75 L222.8,284.05 L222.9,284.26 L223,284.4 L223.1,284.5 L223.2,284.56 L223.3,284.59 L223.4,284.6 L223.5,284.59 L223.6,284.55 L223.7,284.48 L223.8,284.36 L223.9,284.19 L224,283.92 L224.1,283.52 L224.2,282.91 L224.3,281.96 L224.4,280.49 L224.5,278.22 L224.6,274.73 L224.7,269.54 L224.8,262.21 L224.9,252.65 L225,241.42 L225.1,220.8 L225.2,205.4 L225.3,198.11 L225.4,195.25 L225.5,194.21 L225.6,193.86 L225.7,193.76 L225.8,193.77 L225.9,193.81 L226,193.88 L226.1,193.96 L226.2,194.05 L226.3,194.14 L226.4,194.23 L226.5,194.33 L226.6,194.43 L226.7,194.53 L226.8,194.63 L226.9,194.73 L227,194.83 L227.1,194.93 L227.2,195.02 L227.3,195.11 L227.4,195.2 L227.5,195.29 L227.6,195.42 L227.7,195.63 L227.8,196.08 L227.9,197.2 L228,200.12 L228.1,207.45 L228.2,222.88 L228.3,241.42 L228.4,252.65 L228.5,262.21 L228.6,269.54 L228.7,274.73 L228.8,278.22 L228.9,280.49 L229,281.96 L229.1,282.91 L229.2,283.52 L229.3,283.92 L229.4,284.19 L229.5,284.36 L229.6,284.48 L229.7,284.55 L229.8,284.59 L229.9,284.6 L230,284.59 L230.1,284.55 L230.2,284.48 L230.3,284.36 L230.4,284.19 L230.5,283.92 L230.6,283.52 L230.7,282.91 L230.8,281.96 L230.9,280.49 L231,278.22 L231.1,274.73 L231.2,269.54 L231.3,262.21 L231.4,252.65 L231.5,241.42 L231.6,220.8 L231.7,205.4 L231.8,198.11 L231.9,195.25 L232,194.21 L232.1,193.86 L232.2,193.76 L232.3,193.77 L232.4,193.81 L232.5,193.88 L232.6,193.96 L232.6,194" fill="none" stroke="#ef8a44" stroke-width="1.05" stroke-linejoin="round" />
<text x="261.6" y="161.6" font-size="15.5" text-anchor="start" fill="#231818" font-weight="bold" >d</text>
<line x1="314.1" y1="157.6" x2="314.1" y2="319.5" stroke="#3c3c3c" stroke-width="1"/>
<line x1="314.1" y1="164.9" x2="317.1" y2="164.9" stroke="#3c3c3c" stroke-width="1"/>
<text x="309.1" y="169.7" font-size="12" text-anchor="end" fill="#231f20" font-weight="normal" >200</text>
<line x1="314.1" y1="201.75" x2="317.1" y2="201.75" stroke="#3c3c3c" stroke-width="1"/>
<text x="309.1" y="206.55" font-size="12" text-anchor="end" fill="#231f20" font-weight="normal" >100</text>
<line x1="314.1" y1="238.6" x2="317.1" y2="238.6" stroke="#3c3c3c" stroke-width="1"/>
<text x="309.1" y="243.4" font-size="12" text-anchor="end" fill="#231f20" font-weight="normal" >0</text>
<line x1="314.1" y1="275.45" x2="317.1" y2="275.45" stroke="#3c3c3c" stroke-width="1"/>
<text x="309.1" y="280.25" font-size="12" text-anchor="end" fill="#231f20" font-weight="normal" >−100</text>
<line x1="314.1" y1="312.3" x2="317.1" y2="312.3" stroke="#3c3c3c" stroke-width="1"/>
<text x="309.1" y="317.1" font-size="12" text-anchor="end" fill="#231f20" font-weight="normal" >−200</text>
<line x1="314.1" y1="183.32" x2="315.7" y2="183.32" stroke="#3c3c3c" stroke-width="1"/>
<line x1="314.1" y1="220.17" x2="315.7" y2="220.17" stroke="#3c3c3c" stroke-width="1"/>
<line x1="314.1" y1="257.02" x2="315.7" y2="257.02" stroke="#3c3c3c" stroke-width="1"/>
<line x1="314.1" y1="293.88" x2="315.7" y2="293.88" stroke="#3c3c3c" stroke-width="1"/>
<line x1="314.1" y1="319.5" x2="515.8" y2="319.5" stroke="#3c3c3c" stroke-width="1"/>
<line x1="328.4" y1="319.5" x2="328.4" y2="316.5" stroke="#3c3c3c" stroke-width="1"/>
<text x="328.4" y="334.4" font-size="12" text-anchor="middle" fill="#231f20" font-weight="normal" >0</text>
<line x1="357.17" y1="319.5" x2="357.17" y2="316.5" stroke="#3c3c3c" stroke-width="1"/>
<text x="357.17" y="334.4" font-size="12" text-anchor="middle" fill="#231f20" font-weight="normal" >5</text>
<line x1="385.93" y1="319.5" x2="385.93" y2="316.5" stroke="#3c3c3c" stroke-width="1"/>
<text x="385.93" y="334.4" font-size="12" text-anchor="middle" fill="#231f20" font-weight="normal" >10</text>
<line x1="414.7" y1="319.5" x2="414.7" y2="316.5" stroke="#3c3c3c" stroke-width="1"/>
<text x="414.7" y="334.4" font-size="12" text-anchor="middle" fill="#231f20" font-weight="normal" >15</text>
<line x1="443.47" y1="319.5" x2="443.47" y2="316.5" stroke="#3c3c3c" stroke-width="1"/>
<text x="443.47" y="334.4" font-size="12" text-anchor="middle" fill="#231f20" font-weight="normal" >20</text>
<line x1="472.23" y1="319.5" x2="472.23" y2="316.5" stroke="#3c3c3c" stroke-width="1"/>
<text x="472.23" y="334.4" font-size="12" text-anchor="middle" fill="#231f20" font-weight="normal" >25</text>
<line x1="501" y1="319.5" x2="501" y2="316.5" stroke="#3c3c3c" stroke-width="1"/>
<text x="501" y="334.4" font-size="12" text-anchor="middle" fill="#231f20" font-weight="normal" >30</text>
<line x1="342.78" y1="319.5" x2="342.78" y2="317.9" stroke="#3c3c3c" stroke-width="1"/>
<line x1="371.55" y1="319.5" x2="371.55" y2="317.9" stroke="#3c3c3c" stroke-width="1"/>
<line x1="400.32" y1="319.5" x2="400.32" y2="317.9" stroke="#3c3c3c" stroke-width="1"/>
<line x1="429.08" y1="319.5" x2="429.08" y2="317.9" stroke="#3c3c3c" stroke-width="1"/>
<line x1="457.85" y1="319.5" x2="457.85" y2="317.9" stroke="#3c3c3c" stroke-width="1"/>
<line x1="486.62" y1="319.5" x2="486.62" y2="317.9" stroke="#3c3c3c" stroke-width="1"/>
<line x1="515.38" y1="319.5" x2="515.38" y2="317.9" stroke="#3c3c3c" stroke-width="1"/>
<text x="414.3" y="351.5" font-size="12" text-anchor="middle" fill="#231f20" font-weight="normal" >Time (s)</text>
<text x="0" y="0" font-size="12" text-anchor="middle" fill="#231f20" transform="translate(272.3,238.6) rotate(-90)">Current (μA)</text>
<path d="M328.6,240 L329,238.6 L329.5,175.1 L330.1,236 L330.7,237.6 L331.3,236.8 L332,239.2 L332.7,295.1 L333.5,240.2 L334.3,239.6 L335,238.8 L336.4,184.2 L337,236 L337.6,237.6 L338.2,236.8 L338.9,239.2 L339.6,289.7 L340.4,240.2 L341.2,239.6 L341.9,238.8 L342.7,186.4 L343.3,236 L343.9,237.6 L344.5,236.8 L345.2,239.2 L345.9,292.4 L346.7,240.2 L347.5,239.6 L348.2,238.8 L349.2,184.2 L349.8,236 L350.4,237.6 L351,236.8 L351.7,239.2 L352.4,293.2 L353.2,240.2 L354,239.6 L354.7,238.8 L356.1,180.9 L356.7,236 L357.3,237.6 L357.9,236.8 L358.6,239.2 L359.3,294.3 L360.1,240.2 L360.9,239.6 L361.6,238.8 L362.7,180.9 L363.3,236 L363.9,237.6 L364.5,236.8 L365.2,239.2 L365.9,291.6 L366.7,240.2 L367.5,239.6 L368.2,238.8 L369.2,188.3 L369.8,236 L370.4,237.6 L371,236.8 L371.7,239.2 L372.4,288.3 L373.2,240.2 L374,239.6 L374.7,238.8 L375.8,180.1 L376.4,236 L377,237.6 L377.6,236.8 L378.3,239.2 L379,288.3 L379.8,240.2 L380.6,239.6 L381.3,238.8 L382.4,192.4 L383,236 L383.6,237.6 L384.2,236.8 L384.9,239.2 L385.6,291 L386.4,240.2 L387.2,239.6 L387.9,238.8 L389,178.7 L389.6,236 L390.2,237.6 L390.8,236.8 L391.5,239.2 L392.2,288.8 L393,240.2 L393.8,239.6 L394.5,238.8 L395.5,183.1 L396.1,236 L396.7,237.6 L397.3,236.8 L398,239.2 L398.7,287.7 L399.5,240.2 L400.3,239.6 L401,238.8 L402.1,189.1 L402.7,236 L403.3,237.6 L403.9,236.8 L404.6,239.2 L405.3,288.3 L406.1,240.2 L406.9,239.6 L407.6,238.8 L408.8,177.3 L409.4,236 L410,237.6 L410.6,236.8 L411.3,239.2 L412,297.5 L412.8,240.2 L413.6,239.6 L414.3,238.8 L415.1,180.9 L415.7,236 L416.3,237.6 L416.9,236.8 L417.6,239.2 L418.3,294.3 L419.1,240.2 L419.9,239.6 L420.6,238.8 L421.7,182 L422.3,236 L422.9,237.6 L423.5,236.8 L424.2,239.2 L424.9,294.3 L425.7,240.2 L426.5,239.6 L427.2,238.8 L428,184.7 L428.6,236 L429.2,237.6 L429.8,236.8 L430.5,239.2 L431.2,288.3 L432,240.2 L432.8,239.6 L433.5,238.8 L434.6,183.1 L435.2,236 L435.8,237.6 L436.4,236.8 L437.1,239.2 L437.8,286.9 L438.6,240.2 L439.4,239.6 L440.1,238.8 L440.9,183.1 L441.5,236 L442.1,237.6 L442.7,236.8 L443.4,239.2 L444.1,288.3 L444.9,240.2 L445.7,239.6 L446.4,238.8 L447.5,183.6 L448.1,236 L448.7,237.6 L449.3,236.8 L450,239.2 L450.7,286.9 L451.5,240.2 L452.3,239.6 L453,238.8 L454.3,180.6 L454.9,236 L455.5,237.6 L456.1,236.8 L456.8,239.2 L457.5,291.6 L458.3,240.2 L459.1,239.6 L459.8,238.8 L460.9,173.2 L461.5,236 L462.1,237.6 L462.7,236.8 L463.4,239.2 L464.1,288.8 L464.9,240.2 L465.7,239.6 L466.4,238.8 L467.5,180.1 L468.1,236 L468.7,237.6 L469.3,236.8 L470,239.2 L470.7,291 L471.5,240.2 L472.3,239.6 L473,238.8 L473.8,186.1 L474.4,236 L475,237.6 L475.6,236.8 L476.3,239.2 L477,313 L477.8,240.2 L478.6,239.6 L479.3,238.8 L480.3,183.4 L480.9,236 L481.5,237.6 L482.1,236.8 L482.8,239.2 L483.5,292.4 L484.3,240.2 L485.1,239.6 L485.8,238.8 L486.6,185 L487.2,236 L487.8,237.6 L488.4,236.8 L489.1,239.2 L489.8,293.2 L490.6,240.2 L491.4,239.6 L492.1,238.8 L493.2,180.9 L493.8,236 L494.4,237.6 L495,236.8 L495.7,239.2 L496.4,293.8 L497.2,240.2 L498,239.6 L498.7,238.8 L500.1,180.9 L500.7,236 L501.3,237.6 L501.9,236.8 L502.6,239.2 L501.6,238.6 L501.4,240.1" fill="none" stroke="#3596d2" stroke-width="1.0" stroke-linejoin="round" />
<text x="519.9" y="162.1" font-size="15.5" text-anchor="start" fill="#231818" font-weight="bold" >e</text>
<line x1="560.7" y1="160.6" x2="560.7" y2="319" stroke="#3c3c3c" stroke-width="1"/>
<line x1="560.7" y1="161.2" x2="563.7" y2="161.2" stroke="#3c3c3c" stroke-width="1"/>
<text x="555.7" y="166" font-size="12" text-anchor="end" fill="#231f20" font-weight="normal" >25</text>
<line x1="560.7" y1="191.6" x2="563.7" y2="191.6" stroke="#3c3c3c" stroke-width="1"/>
<text x="555.7" y="196.4" font-size="12" text-anchor="end" fill="#231f20" font-weight="normal" >20</text>
<line x1="560.7" y1="222" x2="563.7" y2="222" stroke="#3c3c3c" stroke-width="1"/>
<text x="555.7" y="226.8" font-size="12" text-anchor="end" fill="#231f20" font-weight="normal" >15</text>
<line x1="560.7" y1="252.4" x2="563.7" y2="252.4" stroke="#3c3c3c" stroke-width="1"/>
<text x="555.7" y="257.2" font-size="12" text-anchor="end" fill="#231f20" font-weight="normal" >10</text>
<line x1="560.7" y1="282.8" x2="563.7" y2="282.8" stroke="#3c3c3c" stroke-width="1"/>
<text x="555.7" y="287.6" font-size="12" text-anchor="end" fill="#231f20" font-weight="normal" >5</text>
<line x1="560.7" y1="313.2" x2="563.7" y2="313.2" stroke="#3c3c3c" stroke-width="1"/>
<text x="555.7" y="318" font-size="12" text-anchor="end" fill="#231f20" font-weight="normal" >0</text>
<line x1="560.7" y1="298" x2="562.3" y2="298" stroke="#3c3c3c" stroke-width="1"/>
<line x1="560.7" y1="267.6" x2="562.3" y2="267.6" stroke="#3c3c3c" stroke-width="1"/>
<line x1="560.7" y1="237.2" x2="562.3" y2="237.2" stroke="#3c3c3c" stroke-width="1"/>
<line x1="560.7" y1="206.8" x2="562.3" y2="206.8" stroke="#3c3c3c" stroke-width="1"/>
<line x1="560.7" y1="176.4" x2="562.3" y2="176.4" stroke="#3c3c3c" stroke-width="1"/>
<line x1="560.5" y1="319" x2="666.9" y2="319" stroke="#3c3c3c" stroke-width="1"/>
<line x1="564.3" y1="319" x2="564.3" y2="316" stroke="#3c3c3c" stroke-width="1"/>
<text x="564.3" y="333.9" font-size="12" text-anchor="middle" fill="#231f20" font-weight="normal" >0</text>
<line x1="597.07" y1="319" x2="597.07" y2="316" stroke="#3c3c3c" stroke-width="1"/>
<text x="597.07" y="333.9" font-size="12" text-anchor="middle" fill="#231f20" font-weight="normal" >40</text>
<line x1="629.83" y1="319" x2="629.83" y2="316" stroke="#3c3c3c" stroke-width="1"/>
<text x="629.83" y="333.9" font-size="12" text-anchor="middle" fill="#231f20" font-weight="normal" >80</text>
<line x1="662.6" y1="319" x2="662.6" y2="316" stroke="#3c3c3c" stroke-width="1"/>
<text x="662.6" y="333.9" font-size="12" text-anchor="middle" fill="#231f20" font-weight="normal" >120</text>
<line x1="580.68" y1="319" x2="580.68" y2="317.4" stroke="#3c3c3c" stroke-width="1"/>
<line x1="613.45" y1="319" x2="613.45" y2="317.4" stroke="#3c3c3c" stroke-width="1"/>
<line x1="646.22" y1="319" x2="646.22" y2="317.4" stroke="#3c3c3c" stroke-width="1"/>
<text x="613.3" y="351.5" font-size="12" text-anchor="middle" fill="#231f20" font-weight="normal" >Time (s)</text>
<text x="0" y="0" font-size="12" text-anchor="middle" fill="#231f20" transform="translate(530.4,240) rotate(-90)">Voltage (V)</text>
<path d="M564.1,313 L564.6,307.46 L565.1,302.3 L565.6,297.5 L566.1,293.03 L566.6,288.86 L567.1,284.97 L567.6,281.34 L568.1,277.94 L568.6,274.76 L569.1,271.79 L569.6,269.01 L570.1,266.4 L570.6,263.94 L571.1,261.64 L571.6,259.48 L572.1,257.44 L572.6,255.52 L573.1,253.71 L573.6,252 L574.1,250.38 L574.6,248.85 L575.1,247.4 L575.6,246.03 L576.1,244.73 L576.6,243.49 L577.1,242.31 L577.6,241.19 L578.1,240.12 L578.6,239.11 L579.1,238.13 L579.6,237.2 L580.1,236.31 L580.6,235.46 L581.1,234.64 L581.6,233.86 L582.1,233.1 L582.6,232.38 L583.1,231.68 L583.6,231.01 L584.1,230.36 L585.1,229.13 L586.1,227.99 L587.1,226.91 L588.1,225.9 L589.1,224.96 L590.1,224.06 L591.1,223.22 L592.1,222.41 L593.1,221.65 L594.1,220.93 L595.1,220.25 L596.1,219.59 L597.1,218.97 L598.1,218.37 L599.1,217.8 L600.1,217.26 L601.1,216.74 L602.1,216.24 L603.1,215.76 L604.1,215.3 L605.1,214.86 L606.1,214.44 L607.1,214.04 L608.1,213.65 L609.1,213.28 L610.1,212.92 L611.1,212.58 L612.1,212.25 L613.1,211.93 L614.1,211.63 L615.1,211.33 L616.1,211.05 L617.1,210.78 L618.1,210.52 L619.1,210.27 L620.1,210.03 L621.1,209.8 L622.1,209.58 L623.1,209.37 L624.1,209.16 L625.1,208.96 L626.1,208.77 L627.1,208.59 L628.1,208.41 L629.1,208.24 L630.1,208.08 L631.1,207.92 L632.1,207.77 L633.1,207.63 L634.1,207.49 L635.1,207.36 L636.1,207.23 L637.1,207.1 L638.1,206.98 L639.1,206.87 L640.1,206.76 L641.1,206.65 L642.1,206.55 L643.1,206.45 L644.1,206.36 L645.1,206.27 L646.1,206.18 L647.1,206.1 L648.1,206.02 L649.1,205.94 L650.1,205.86 L651.1,205.79 L652.1,205.72 L653.1,205.66 L654.1,205.59 L655.1,205.53 L656.1,205.47 L657.1,205.41 L658.1,205.36 L659.1,205.31 L660.1,205.26 L661.1,205.21 L662.1,205.16" fill="none" stroke="#ee8a3a" stroke-width="1.1" stroke-linejoin="round" />
<path d="M564.1,313 L564.6,310.65 L565.1,308.38 L565.6,306.17 L566.1,304.04 L566.6,301.97 L567.1,299.96 L567.6,298.02 L568.1,296.14 L568.6,294.31 L569.1,292.55 L569.6,290.83 L570.1,289.17 L570.6,287.56 L571.1,286 L571.6,284.48 L572.1,283.01 L572.6,281.59 L573.1,280.21 L573.6,278.87 L574.1,277.57 L574.6,276.31 L575.1,275.08 L575.6,273.89 L576.1,272.74 L576.6,271.62 L577.1,270.53 L577.6,269.48 L578.1,268.45 L578.6,267.46 L579.1,266.49 L579.6,265.55 L580.1,264.64 L580.6,263.75 L581.1,262.89 L581.6,262.05 L582.1,261.24 L582.6,260.45 L583.1,259.68 L583.6,258.93 L584.1,258.2 L585.1,256.8 L586.1,255.47 L587.1,254.22 L588.1,253.02 L589.1,251.89 L590.1,250.81 L591.1,249.79 L592.1,248.81 L593.1,247.88 L594.1,246.99 L595.1,246.15 L596.1,245.34 L597.1,244.56 L598.1,243.82 L599.1,243.11 L600.1,242.42 L601.1,241.77 L602.1,241.14 L603.1,240.53 L604.1,239.94 L605.1,239.37 L606.1,238.83 L607.1,238.3 L608.1,237.78 L609.1,237.29 L610.1,236.8 L611.1,236.33 L612.1,235.88 L613.1,235.43 L614.1,235 L615.1,234.57 L616.1,234.16 L617.1,233.75 L618.1,233.36 L619.1,232.97 L620.1,232.59 L621.1,232.21 L622.1,231.84 L623.1,231.48 L624.1,231.12 L625.1,230.77 L626.1,230.43 L627.1,230.08 L628.1,229.75 L629.1,229.41 L630.1,229.08 L631.1,228.76 L632.1,228.43 L633.1,228.11 L634.1,227.8 L635.1,227.48 L636.1,227.17 L637.1,226.86 L638.1,226.55 L639.1,226.25 L640.1,225.94 L641.1,225.64 L642.1,225.34 L643.1,225.04 L644.1,224.75 L645.1,224.45 L646.1,224.16 L647.1,223.86 L648.1,223.57 L649.1,223.28 L650.1,222.99 L651.1,222.7 L652.1,222.41 L653.1,222.12 L654.1,221.84 L655.1,221.55 L656.1,221.27 L657.1,220.98 L658.1,220.7 L659.1,220.41 L660.1,220.13 L661.1,219.85 L662.1,219.56" fill="none" stroke="#3a9bd5" stroke-width="1.1" stroke-linejoin="round" />
<path d="M564.1,313 L564.6,311.61 L565.1,310.25 L565.6,308.91 L566.1,307.61 L566.6,306.33 L567.1,305.08 L567.6,303.85 L568.1,302.66 L568.6,301.48 L569.1,300.33 L569.6,299.2 L570.1,298.1 L570.6,297.02 L571.1,295.96 L571.6,294.93 L572.1,293.91 L572.6,292.92 L573.1,291.95 L573.6,290.99 L574.1,290.06 L574.6,289.14 L575.1,288.24 L575.6,287.37 L576.1,286.5 L576.6,285.66 L577.1,284.83 L577.6,284.02 L578.1,283.23 L578.6,282.45 L579.1,281.68 L579.6,280.94 L580.1,280.2 L580.6,279.48 L581.1,278.78 L581.6,278.09 L582.1,277.41 L582.6,276.74 L583.1,276.09 L583.6,275.45 L584.1,274.82 L585.1,273.6 L586.1,272.43 L587.1,271.3 L588.1,270.21 L589.1,269.16 L590.1,268.14 L591.1,267.17 L592.1,266.23 L593.1,265.32 L594.1,264.44 L595.1,263.59 L596.1,262.78 L597.1,261.98 L598.1,261.22 L599.1,260.48 L600.1,259.76 L601.1,259.07 L602.1,258.4 L603.1,257.75 L604.1,257.12 L605.1,256.51 L606.1,255.91 L607.1,255.34 L608.1,254.78 L609.1,254.23 L610.1,253.7 L611.1,253.19 L612.1,252.69 L613.1,252.2 L614.1,251.72 L615.1,251.26 L616.1,250.81 L617.1,250.37 L618.1,249.94 L619.1,249.52 L620.1,249.1 L621.1,248.7 L622.1,248.31 L623.1,247.92 L624.1,247.54 L625.1,247.17 L626.1,246.81 L627.1,246.46 L628.1,246.11 L629.1,245.76 L630.1,245.42 L631.1,245.09 L632.1,244.77 L633.1,244.45 L634.1,244.13 L635.1,243.82 L636.1,243.51 L637.1,243.21 L638.1,242.91 L639.1,242.62 L640.1,242.32 L641.1,242.04 L642.1,241.75 L643.1,241.47 L644.1,241.2 L645.1,240.92 L646.1,240.65 L647.1,240.38 L648.1,240.12 L649.1,239.85 L650.1,239.59 L651.1,239.33 L652.1,239.07 L653.1,238.82 L654.1,238.57 L655.1,238.32 L656.1,238.07 L657.1,237.82 L658.1,237.57 L659.1,237.33 L660.1,237.09 L661.1,236.84 L662.1,236.6" fill="none" stroke="#1f8a4c" stroke-width="1.1" stroke-linejoin="round" />
<path d="M564.1,313 L564.6,311.78 L565.1,310.6 L565.6,309.46 L566.1,308.36 L566.6,307.3 L567.1,306.27 L567.6,305.27 L568.1,304.3 L568.6,303.37 L569.1,302.47 L569.6,301.59 L570.1,300.74 L570.6,299.92 L571.1,299.13 L571.6,298.35 L572.1,297.61 L572.6,296.88 L573.1,296.18 L573.6,295.5 L574.1,294.83 L574.6,294.19 L575.1,293.57 L575.6,292.96 L576.1,292.38 L576.6,291.8 L577.1,291.25 L577.6,290.71 L578.1,290.19 L578.6,289.68 L579.1,289.18 L579.6,288.7 L580.1,288.23 L580.6,287.77 L581.1,287.32 L581.6,286.89 L582.1,286.46 L582.6,286.05 L583.1,285.65 L583.6,285.26 L584.1,284.87 L585.1,284.13 L586.1,283.43 L587.1,282.76 L588.1,282.11 L589.1,281.5 L590.1,280.91 L591.1,280.34 L592.1,279.79 L593.1,279.27 L594.1,278.76 L595.1,278.27 L596.1,277.8 L597.1,277.34 L598.1,276.9 L599.1,276.47 L600.1,276.06 L601.1,275.65 L602.1,275.26 L603.1,274.87 L604.1,274.5 L605.1,274.14 L606.1,273.78 L607.1,273.43 L608.1,273.09 L609.1,272.76 L610.1,272.43 L611.1,272.11 L612.1,271.79 L613.1,271.48 L614.1,271.18 L615.1,270.88 L616.1,270.59 L617.1,270.3 L618.1,270.01 L619.1,269.73 L620.1,269.45 L621.1,269.18 L622.1,268.91 L623.1,268.64 L624.1,268.38 L625.1,268.12 L626.1,267.86 L627.1,267.6 L628.1,267.35 L629.1,267.1 L630.1,266.85 L631.1,266.61 L632.1,266.37 L633.1,266.13 L634.1,265.89 L635.1,265.66 L636.1,265.42 L637.1,265.19 L638.1,264.96 L639.1,264.74 L640.1,264.51 L641.1,264.29 L642.1,264.06 L643.1,263.85 L644.1,263.63 L645.1,263.41 L646.1,263.2 L647.1,262.98 L648.1,262.77 L649.1,262.56 L650.1,262.35 L651.1,262.15 L652.1,261.94 L653.1,261.74 L654.1,261.54 L655.1,261.34 L656.1,261.14 L657.1,260.94 L658.1,260.74 L659.1,260.55 L660.1,260.36 L661.1,260.16 L662.1,259.97" fill="none" stroke="#1a7f86" stroke-width="1.1" stroke-linejoin="round" />
<line x1="567.1" y1="167.3" x2="584.8" y2="167.3" stroke="#ee8a3a" stroke-width="1.1"/>
<text x="589.5" y="170.6" font-size="9.2" text-anchor="start" fill="#231f20" font-weight="normal" >100 μF</text>
<line x1="619.6" y1="167.3" x2="637.2" y2="167.3" stroke="#3a9bd5" stroke-width="1.1"/>
<text x="640.5" y="170.6" font-size="9.2" text-anchor="start" fill="#231f20" font-weight="normal" >220 μF</text>
<line x1="567.1" y1="180.3" x2="584.8" y2="180.3" stroke="#1f8a4c" stroke-width="1.1"/>
<text x="589.5" y="183.4" font-size="9.2" text-anchor="start" fill="#231f20" font-weight="normal" >330 μF</text>
<line x1="619.6" y1="180.3" x2="637.2" y2="180.3" stroke="#1a7f86" stroke-width="1.1"/>
<text x="640.5" y="183.4" font-size="9.2" text-anchor="start" fill="#231f20" font-weight="normal" >470 μF</text>
<text x="-0.3" y="376.1" font-size="15.5" text-anchor="start" fill="#231818" font-weight="bold" >f</text>
<text x="69.6" y="390.7" font-size="11.8" text-anchor="middle" fill="#3a2a2a" font-weight="normal" >Dumbell curl</text>
<text x="196.6" y="390.7" font-size="11.8" text-anchor="middle" fill="#3a2a2a" font-weight="normal" >Run or walk</text>
<defs><linearGradient id="lbg" x1="0" y1="0" x2="0" y2="1"><stop offset="0" stop-color="#b6bbb8"/><stop offset="0.5" stop-color="#aab0ad"/><stop offset="1" stop-color="#9c9e99"/></linearGradient><linearGradient id="wall" x1="0" y1="0" x2="0" y2="1"><stop offset="0" stop-color="#d6d9cf"/><stop offset="0.8" stop-color="#d0d3c7"/><stop offset="1" stop-color="#c4c7bb"/></linearGradient><linearGradient id="floor" x1="0" y1="0" x2="0" y2="1"><stop offset="0" stop-color="#6a8ecf"/><stop offset="0.35" stop-color="#809fd0"/><stop offset="1" stop-color="#96aed3"/></linearGradient><linearGradient id="coat" x1="0" y1="0" x2="1" y2="0"><stop offset="0" stop-color="#e2e2e8"/><stop offset="0.5" stop-color="#eeeef2"/><stop offset="1" stop-color="#e6e6ec"/></linearGradient><linearGradient id="pant" x1="0" y1="0" x2="1" y2="0"><stop offset="0" stop-color="#c2b698"/><stop offset="0.15" stop-color="#cdc1a3"/><stop offset="0.6" stop-color="#cbbfa1"/><stop offset="1" stop-color="#b9ad90"/></linearGradient><filter id="soft" x="-5%" y="-5%" width="110%" height="110%"><feGaussianBlur stdDeviation="0.7"/></filter><clipPath id="clipL"><rect x="10.6" y="401.9" width="119" height="129.5"/></clipPath><clipPath id="clipR"><rect x="135.8" y="401.9" width="119.5" height="129.5"/></clipPath></defs>
<g clip-path="url(#clipL)">
<rect x="10.6" y="401.9" width="119" height="129.5" fill="url(#lbg)"/>
<rect x="113.5" y="401.9" width="2.5" height="40" fill="#c5c9c6" opacity="0.8"/>
<rect x="120" y="401.9" width="9.6" height="40" fill="#b9bebb" opacity="0.8"/>
<g filter="url(#soft)">
<path d="M32.1,458.2 L34.5,453.9 L44.1,450.5 L56.2,447.4 L60.5,449.1 L64.6,455.8 L69.4,462.6 L75.5,466.7 L80.3,469.8 L84.6,466.7 L88.7,461.1 L92.8,454.6 L97.6,447.4 L102.4,439 L107.3,431.7 L114,426.4 L121.2,422.8 L129.7,420.2 L138.1,419.2 L138,545 L90,545 L88.4,531.6 L80,529.5 L68.5,526.7 L60.4,523.2 L53.4,516.2 L47,504 L41,492 L37,480 L34,470 Z" fill="url(#coat)" />
<path d="M37,480 L41,492 L47,504 L53.4,516.2 L60.4,523.2 L68.5,526.7 L80,529.5 L88.4,531.6 L90,545 L95,545 L92,520 L80,505 L65,495 L50,485 L40,475 Z" fill="#c9c9d2" opacity="0.6"/>
<path d="M62.2,458.23 L68.23,463.04 L75.45,467.86 L80.27,470.27 L82.68,479.91 L81.48,489.54 L77.86,496.77 L73.04,501.59 L68.23,506.41 L65.82,501.59 L69.43,494.36 L71.12,484.73 L68.23,472.68 L64.61,465.45 Z" fill="#cbcbd3" opacity="0.75"/>
<path d="M34.5,470.27 L39.32,467.86 L44.14,477.5 L50.16,489.54 L54.98,501.59 L59.79,511.23 L57.39,513.63 L51.36,506.41 L44.14,494.36 L38.11,482.32 Z" fill="#d6d6dd" opacity="0.6"/>
<path d="M85.09,470.27 L91.11,467.86 L99.54,470.27 L109.18,477.5 L111.59,487.14 L104.36,491.95 L94.73,489.54 L87.5,484.73 Z" fill="#dadae1" opacity="0.5"/>
<path d="M80.27,501.59 L89.91,499.18 L104.36,504 L116.41,511.23 L111.59,518.45 L99.54,516.04 L87.5,511.23 Z" fill="#d4d4db" opacity="0.5"/>
<path d="M116.41,431.73 L123.63,426.91 L129.66,424.5 L129.66,470.27 L123.63,465.45 L118.82,451 Z" fill="#f2f2f5" opacity="0.7"/>
<path d="M32.09,458.23 L34.5,453.89 L44.14,450.52 L56.18,447.39 L60.52,449.07 L62.2,454.61 L53.77,457.02 L44.14,459.43 L35.7,461.12 Z" fill="#dedee4" />
<path d="M36.91,457.02 L46.54,453.89 L56.18,451.48 Z" fill="none" stroke="#c4c4cc" stroke-width="0.6"/>
<path d="M28.6,412.4 L34.8,409.3 L42.2,407.4 L47.2,406.2 L52.1,406.8 L54.6,409.9 L54.9,418.6 L53.4,424.8 L50.9,432.2 L48.4,438.4 L49.7,447.1 L50.5,452 L36,455.5 L34.8,447.1 L32.3,437.2 L29.8,428.5 L28,419.8 Z" fill="#dfc5b5" />
<path d="M30,420 L38,418 L44,421 L47,426 L45,431 L40,428 L34,425 Z" fill="#cfae9c" opacity="0.8"/>
<path d="M38,423 L42,422 L41,426 L38,426 Z" fill="#b38e7c" opacity="0.8"/>
<path d="M48.5,408 L52.1,406.8 L54.6,409.9 L54.9,418.6 L53,424 L51,418 L50,412 Z" fill="#d2b3a2" opacity="0.8"/>
<path d="M34,410 L42,408 L46,409 L44,414 L36,415 Z" fill="#ead5c8" opacity="0.8"/>
<path d="M33,440 L47,437 L48.4,441 L36,444 Z" fill="#d3b5a4" opacity="0.5"/>
</g>
<path d="M70,472.5 C70.47,471.08 72.33,470.58 73,471.5 C73.67,472.42 74,475.58 74,478 C74,480.42 73.5,484.67 73,486 C72.5,487.33 71.47,487 71,486 C70.53,485 70.37,482.25 70.2,480 C70.03,477.75 69.53,473.92 70,472.5 Z" fill="#2e3138" />
<path d="M70.5,484 C71,482.67 72.83,482.67 73.5,484 C74.17,485.33 74.75,490 74.5,492 C74.25,494 72.67,496 72,496 C71.33,496 70.75,494 70.5,492 C70.25,490 70,485.33 70.5,484 Z" fill="#8d8f98" opacity="0.8"/>
<ellipse cx="0" cy="0" rx="7.0" ry="16.0" fill="none" stroke="#ef8f1c" stroke-width="1.9" transform="translate(71.6,480.3) rotate(8)"/>
</g>
<g clip-path="url(#clipR)">
<rect x="135.8" y="401.9" width="119.5" height="129.5" fill="url(#floor)"/>
<rect x="135.8" y="401.9" width="119.5" height="36.6" fill="url(#wall)"/>
<rect x="135.8" y="437.3" width="119.5" height="4.2" fill="#3a5148"/>
<rect x="160" y="438.3" width="20" height="2.6" fill="#2f6b52" opacity="0.8"/>
<g filter="url(#soft)">
<path d="M246,401 L257,401 L257,466 L245,466 L246.5,440 Z" fill="#b1a78c" />
<path d="M249,430 L256,418 L256,428 L250,438 Z" fill="#6f6a58" opacity="0.7"/>
<path d="M247,445 L256,440 L256,446 L248,450 Z" fill="#5e5a4c" opacity="0.6"/>
<path d="M232,401 L246.5,401 L246.8,440 L245.5,466 L238.5,467 L236.5,450 L233.5,435 Z" fill="#4f5444" />
<path d="M173.3,398 L233.8,398 L234.2,420 L235.2,440 L236.8,452 L238.6,458 L239.6,463 L239.4,467.5 L236,470.5 L225,472.5 L210,474.5 L195,476.3 L182,477.5 L177.5,477 L175.6,473 L174.6,466 L174.2,460 L173.8,450 L173.5,430 Z" fill="url(#pant)" />
<path d="M176,460 L238,457 L239,462 L177,466 Z" fill="#b0a386" opacity="0.6"/>
<path d="M233.5,428 L235,440 L236.5,452 L228,458 L219,461 L224,450 L230,440 Z" fill="#6e6852" opacity="0.75"/>
<path d="M208,402 L209.2,402 L210.2,462 L209,462 Z" fill="#b5a98c" opacity="0.6"/>
<path d="M178,402 L182,402 L183,470 L178,472 Z" fill="#bfb396" opacity="0.5"/>
<path d="M143,481.7 C143.45,479.18 145.5,476.95 147.5,475.5 C149.5,474.05 152.63,473.6 155,473 C157.37,472.4 159.1,472.82 161.7,471.9 C164.3,470.98 168.22,468.48 170.6,467.5 C172.98,466.52 174.77,464.42 176,466 C177.23,467.58 174,475.33 178,477 C182,478.67 193,476.58 200,476 C207,475.42 214.22,474.58 220,473.5 C225.78,472.42 231.05,469.62 234.7,469.5 C238.35,469.38 239.98,471.05 241.9,472.8 C243.82,474.55 245.32,477.92 246.2,480 C247.08,482.08 247.63,483.53 247.2,485.3 C246.77,487.07 245.68,489.27 243.6,490.6 C241.52,491.93 240.33,492.57 234.7,493.3 C229.07,494.03 217.52,493.88 209.8,495 C202.08,496.12 194.93,498.8 188.4,500 C181.87,501.2 176.53,502.28 170.6,502.2 C164.67,502.12 157.1,501.43 152.8,499.5 C148.5,497.57 146.43,493.57 144.8,490.6 C143.17,487.63 142.55,484.22 143,481.7 Z" fill="#bdb6a3" />
<path d="M146,478.5 C146.67,477.5 149.67,476.33 152,475.5 C154.33,474.67 157.67,473.58 160,473.5 C162.33,473.42 165.5,474 166,475 C166.5,476 164.83,478.42 163,479.5 C161.17,480.58 157.5,481.17 155,481.5 C152.5,481.83 149.5,482 148,481.5 C146.5,481 145.33,479.5 146,478.5 Z" fill="#8e8979" />
<path d="M160,484 C160.83,482.42 164.33,481.33 167,480.5 C169.67,479.67 173.17,479.08 176,479 C178.83,478.92 182.33,478.83 184,480 C185.67,481.17 186.67,484.25 186,486 C185.33,487.75 182.67,489.5 180,490.5 C177.33,491.5 173,492.08 170,492 C167,491.92 163.67,491.33 162,490 C160.33,488.67 159.17,485.58 160,484 Z" fill="#7e796b" />
<path d="M186,479 C187.33,477 189.67,476.5 190,478 C190.33,479.5 189,485.67 188,488 C187,490.33 185,491.67 184,492 C183,492.33 181.67,492.17 182,490 C182.33,487.83 184.67,481 186,479 Z" fill="#dedbd2" opacity="0.8"/>
<path d="M145,491 C146.17,490.08 153.33,493.67 160,494 C166.67,494.33 176.67,493.83 185,493 C193.33,492.17 201.67,490.33 210,489 C218.33,487.67 229.5,485.33 235,485 C240.5,484.67 242.83,485.75 243,487 C243.17,488.25 241.5,491.17 236,492.5 C230.5,493.83 218,493.75 210,495 C202,496.25 194.67,498.83 188,500 C181.33,501.17 175.83,502.08 170,502 C164.17,501.92 157.17,501.33 153,499.5 C148.83,497.67 143.83,491.92 145,491 Z" fill="#d6d1c1" />
<path d="M238.5,475 C239.33,474.5 241.67,475.67 243,477 C244.33,478.33 246.25,481 246.5,483 C246.75,485 245.58,488.5 244.5,489 C243.42,489.5 241.08,487.5 240,486 C238.92,484.5 238.25,481.83 238,480 C237.75,478.17 237.67,475.5 238.5,475 Z" fill="#55514a" />
<path d="M195,478 C197.5,476.25 208.83,476.5 215,475.5 C221.17,474.5 228.5,471.25 232,472 C235.5,472.75 237.17,478 236,480 C234.83,482 231,483 225,484 C219,485 205,487 200,486 C195,485 192.5,479.75 195,478 Z" fill="#c8c2b0" opacity="0.8"/>
</g>
<path d="M213.4,496 L241.9,494.2 L246.3,500.4 L215.1,503.1 Z" fill="#473d31" />
<path d="M213.4,496 L241.9,494.2 L242.6,495.6 L214,497.5 Z" fill="#8a8174" />
<ellipse cx="0" cy="0" rx="23.6" ry="9.6" fill="none" stroke="#ef8f1c" stroke-width="1.9" transform="translate(229.8,501.4) rotate(-6)"/>
</g>
<line x1="8.05" y1="400" x2="131.95" y2="400" stroke="#f29a2c" stroke-width="2.0" stroke-linecap="butt" stroke-dasharray="1.9 1"/>
<line x1="8.05" y1="534" x2="131.95" y2="534" stroke="#f29a2c" stroke-width="2.0" stroke-linecap="butt" stroke-dasharray="1.9 1"/>
<line x1="9" y1="399.05" x2="9" y2="534.95" stroke="#f29a2c" stroke-width="2.0" stroke-linecap="butt" stroke-dasharray="1.9 1.01"/>
<line x1="131" y1="399.05" x2="131" y2="534.95" stroke="#f29a2c" stroke-width="2.0" stroke-linecap="butt" stroke-dasharray="1.9 1.01"/>
<line x1="133.05" y1="400" x2="257.95" y2="400" stroke="#f29a2c" stroke-width="2.0" stroke-linecap="butt" stroke-dasharray="1.9 1.03"/>
<line x1="133.05" y1="534" x2="257.95" y2="534" stroke="#f29a2c" stroke-width="2.0" stroke-linecap="butt" stroke-dasharray="1.9 1.03"/>
<line x1="134" y1="399.05" x2="134" y2="534.95" stroke="#f29a2c" stroke-width="2.0" stroke-linecap="butt" stroke-dasharray="1.9 1.01"/>
<line x1="257" y1="399.05" x2="257" y2="534.95" stroke="#f29a2c" stroke-width="2.0" stroke-linecap="butt" stroke-dasharray="1.9 1.01"/>
<rect x="70.3" y="507.7" width="131.6" height="19.0" fill="#ef981f"/>
<text x="136.9" y="522.4" font-size="12.0" text-anchor="middle" fill="#fff" font-weight="normal" >Piezoelectric generator</text>
<text x="270.6" y="376" font-size="15.5" text-anchor="start" fill="#231818" font-weight="bold" >g</text>
<line x1="316.5" y1="370.7" x2="316.5" y2="532.7" stroke="#3c3c3c" stroke-width="1"/>
<line x1="316.5" y1="382" x2="319" y2="382" stroke="#3c3c3c" stroke-width="1"/>
<text x="311.5" y="386.8" font-size="12" text-anchor="end" fill="#231f20" font-weight="normal" >20</text>
<line x1="316.5" y1="397.6" x2="319" y2="397.6" stroke="#3c3c3c" stroke-width="1"/>
<text x="311.5" y="402.4" font-size="12" text-anchor="end" fill="#231f20" font-weight="normal" >0</text>
<line x1="316.5" y1="413.2" x2="319" y2="413.2" stroke="#3c3c3c" stroke-width="1"/>
<text x="311.5" y="418" font-size="12" text-anchor="end" fill="#231f20" font-weight="normal" >−20</text>
<line x1="316.5" y1="374.2" x2="318" y2="374.2" stroke="#3c3c3c" stroke-width="1"/>
<line x1="316.5" y1="389.8" x2="318" y2="389.8" stroke="#3c3c3c" stroke-width="1"/>
<line x1="316.5" y1="405.4" x2="318" y2="405.4" stroke="#3c3c3c" stroke-width="1"/>
<line x1="316.5" y1="421" x2="318" y2="421" stroke="#3c3c3c" stroke-width="1"/>
<line x1="316.5" y1="436.1" x2="319" y2="436.1" stroke="#3c3c3c" stroke-width="1"/>
<text x="311.5" y="440.9" font-size="12" text-anchor="end" fill="#231f20" font-weight="normal" >20</text>
<line x1="316.5" y1="451.7" x2="319" y2="451.7" stroke="#3c3c3c" stroke-width="1"/>
<text x="311.5" y="456.5" font-size="12" text-anchor="end" fill="#231f20" font-weight="normal" >0</text>
<line x1="316.5" y1="467.3" x2="319" y2="467.3" stroke="#3c3c3c" stroke-width="1"/>
<text x="311.5" y="472.1" font-size="12" text-anchor="end" fill="#231f20" font-weight="normal" >−20</text>
<line x1="316.5" y1="428.3" x2="318" y2="428.3" stroke="#3c3c3c" stroke-width="1"/>
<line x1="316.5" y1="443.9" x2="318" y2="443.9" stroke="#3c3c3c" stroke-width="1"/>
<line x1="316.5" y1="459.5" x2="318" y2="459.5" stroke="#3c3c3c" stroke-width="1"/>
<line x1="316.5" y1="475.1" x2="318" y2="475.1" stroke="#3c3c3c" stroke-width="1"/>
<line x1="316.5" y1="489.9" x2="319" y2="489.9" stroke="#3c3c3c" stroke-width="1"/>
<text x="311.5" y="494.7" font-size="12" text-anchor="end" fill="#231f20" font-weight="normal" >20</text>
<line x1="316.5" y1="505.5" x2="319" y2="505.5" stroke="#3c3c3c" stroke-width="1"/>
<text x="311.5" y="510.3" font-size="12" text-anchor="end" fill="#231f20" font-weight="normal" >0</text>
<line x1="316.5" y1="521.1" x2="319" y2="521.1" stroke="#3c3c3c" stroke-width="1"/>
<text x="311.5" y="525.9" font-size="12" text-anchor="end" fill="#231f20" font-weight="normal" >−20</text>
<line x1="316.5" y1="482.1" x2="318" y2="482.1" stroke="#3c3c3c" stroke-width="1"/>
<line x1="316.5" y1="497.7" x2="318" y2="497.7" stroke="#3c3c3c" stroke-width="1"/>
<line x1="316.5" y1="513.3" x2="318" y2="513.3" stroke="#3c3c3c" stroke-width="1"/>
<line x1="316.5" y1="528.9" x2="318" y2="528.9" stroke="#3c3c3c" stroke-width="1"/>
<line x1="316.5" y1="424.5" x2="515.7" y2="424.5" stroke="#3c3c3c" stroke-width="1.0"/>
<line x1="316.5" y1="478.3" x2="515.7" y2="478.3" stroke="#3c3c3c" stroke-width="1.0"/>
<line x1="316.5" y1="532.7" x2="515.7" y2="532.7" stroke="#3c3c3c" stroke-width="1"/>
<line x1="325.5" y1="532.7" x2="325.5" y2="529.7" stroke="#3c3c3c" stroke-width="1"/>
<text x="325.5" y="547.2" font-size="12" text-anchor="middle" fill="#231f20" font-weight="normal" >0</text>
<line x1="370.62" y1="532.7" x2="370.62" y2="529.7" stroke="#3c3c3c" stroke-width="1"/>
<text x="370.62" y="547.2" font-size="12" text-anchor="middle" fill="#231f20" font-weight="normal" >5</text>
<line x1="415.75" y1="532.7" x2="415.75" y2="529.7" stroke="#3c3c3c" stroke-width="1"/>
<text x="415.75" y="547.2" font-size="12" text-anchor="middle" fill="#231f20" font-weight="normal" >10</text>
<line x1="460.88" y1="532.7" x2="460.88" y2="529.7" stroke="#3c3c3c" stroke-width="1"/>
<text x="460.88" y="547.2" font-size="12" text-anchor="middle" fill="#231f20" font-weight="normal" >15</text>
<line x1="506" y1="532.7" x2="506" y2="529.7" stroke="#3c3c3c" stroke-width="1"/>
<text x="506" y="547.2" font-size="12" text-anchor="middle" fill="#231f20" font-weight="normal" >20</text>
<line x1="348.06" y1="532.7" x2="348.06" y2="531.1" stroke="#3c3c3c" stroke-width="1"/>
<line x1="393.19" y1="532.7" x2="393.19" y2="531.1" stroke="#3c3c3c" stroke-width="1"/>
<line x1="438.31" y1="532.7" x2="438.31" y2="531.1" stroke="#3c3c3c" stroke-width="1"/>
<line x1="483.44" y1="532.7" x2="483.44" y2="531.1" stroke="#3c3c3c" stroke-width="1"/>
<text x="415.8" y="561.2" font-size="12" text-anchor="middle" fill="#231f20" font-weight="normal" >Time (s)</text>
<text x="0" y="0" font-size="12" text-anchor="middle" fill="#231f20" transform="translate(280.9,451.2) rotate(-90)">Voltage (V)</text>
<path d="M325.5,418.34 L325.68,416.67 L325.86,411.93 L326.04,404.88 L326.22,396.62 L326.4,388.21 L326.58,381.31 L326.76,377.03 L326.94,376.07 L327.12,378.58 L327.31,384.15 L327.49,391.88 L327.67,400.42 L327.85,408.27 L328.03,414.41 L328.21,417.83 L328.39,417.62 L328.57,414.56 L328.75,408.77 L328.93,401.18 L329.11,392.57 L329.29,384.42 L329.47,378.39 L329.65,375.46 L329.83,376.09 L330.01,380.19 L330.19,387.09 L330.37,395.68 L330.55,403.97 L330.73,411.06 L330.92,415.98 L331.1,417.94 L331.28,418.36 L331.46,413.58 L331.64,406.23 L331.82,397.49 L332,388.88 L332.18,381.67 L332.36,377.03 L332.54,375.7 L332.72,377.9 L332.9,383.27 L333.08,390.95 L333.26,399.73 L333.44,408.25 L333.62,415.05 L333.8,419.05 L333.98,417.68 L334.16,414.94 L334.34,409.41 L334.52,401.97 L334.71,393.42 L334.89,385.08 L335.07,378.75 L335.25,375.46 L335.43,375.73 L335.61,379.53 L335.79,386.23 L335.97,394.77 L336.15,403.16 L336.33,410.38 L336.51,415.55 L336.69,417.82 L336.87,419.38 L337.05,414.76 L337.23,407.37 L337.41,398.41 L337.59,389.48 L337.77,381.88 L337.95,376.8 L338.13,375.08 L338.32,376.98 L338.5,382.2 L338.68,389.91 L338.86,398.88 L339.04,407.79 L339.22,415.06 L339.4,419.53 L339.58,421.36 L339.76,418.5 L339.94,412.27 L340.12,403.68 L340.3,394.5 L340.48,386.5 L340.66,380.29 L340.84,376.86 L341.02,376.78 L341.2,380.04 L341.38,386.14 L341.56,394.08 L341.75,403.22 L341.93,411.89 L342.11,418.26 L342.29,421.3 L342.47,418.57 L342.65,414.49 L342.83,407.68 L343.01,399.25 L343.19,390.8 L343.37,383.5 L343.55,378.47 L343.73,376.52 L343.91,377.97 L344.09,382.57 L344.27,389.6 L344.45,397.93 L344.63,406.49 L344.81,413.62 L344.99,418.17 L345.17,421.61 L345.36,419.11 L345.54,413.14 L345.72,404.66 L345.9,395.16 L346.08,386.36 L346.26,379.37 L346.44,375.31 L346.62,374.84 L346.8,378.04 L346.98,384.39 L347.16,392.87 L347.34,402.31 L347.52,411.2 L347.7,417.91 L347.88,421.34 L348.06,420.33 L348.24,416.29 L348.42,409.24 L348.6,400.31 L348.78,391.45 L348.97,383.78 L349.15,378.33 L349.33,375.99 L349.51,377.13 L349.69,381.56 L349.87,388.58 L350.05,397.05 L350.23,406.26 L350.41,414.11 L350.59,419.31 L350.77,420.18 L350.95,418.19 L351.13,412.87 L351.31,405.1 L351.49,396.18 L351.67,387.82 L351.85,381.03 L352.03,376.91 L352.21,376.12 L352.39,378.8 L352.58,384.5 L352.76,392.31 L352.94,401.12 L353.12,409.61 L353.3,416.17 L353.48,419.73 L353.66,418.96 L353.84,415.52 L354.02,409.19 L354.2,401 L354.38,391.87 L354.56,383.42 L354.74,377.25 L354.92,374.35 L355.1,375.21 L355.28,379.67 L355.46,387.01 L355.64,396.07 L355.82,404.84 L356,412.34 L356.19,417.47 L356.37,419.39 L356.55,419.46 L356.73,414.22 L356.91,406.32 L357.09,397.04 L357.27,388.38 L357.45,381.2 L357.63,376.66 L357.81,375.49 L357.99,377.89 L358.17,383.46 L358.35,391.31 L358.53,400.33 L358.71,409.32 L358.89,416.41 L359.07,420.48 L359.25,421.3 L359.43,417.87 L359.61,411.18 L359.8,402.3 L359.98,392.87 L360.16,384.39 L360.34,378.04 L360.52,374.85 L360.7,375.31 L360.88,379.37 L361.06,386.36 L361.24,395.16 L361.42,404.65 L361.6,413.11 L361.78,419.07 L361.96,421.57 L362.14,417.18 L362.32,412.85 L362.5,406.06 L362.68,397.92 L362.86,389.19 L363.04,381.8 L363.22,376.96 L363.4,375.44 L363.59,377.48 L363.77,382.77 L363.95,390.45 L364.13,399.17 L364.31,407.2 L364.49,413.68 L364.67,417.57 L364.85,420.39 L365.03,417.46 L365.21,411.34 L365.39,403 L365.57,393.86 L365.75,385.41 L365.93,378.93 L366.11,375.46 L366.29,375.55 L366.47,379.19 L366.65,385.8 L366.83,394.31 L367.01,403.45 L367.2,411.7 L367.38,417.69 L367.56,420.44 L367.74,417.11 L367.92,413.14 L368.1,406.67 L368.28,398.74 L368.46,390.29 L368.64,382.96 L368.82,378 L369,376.19 L369.18,377.83 L369.36,382.65 L369.54,389.88 L369.72,398.32 L369.9,406.3 L370.08,412.87 L370.26,416.98 L370.44,418.22 L370.62,415.9 L370.81,410.64 L370.99,403.27 L371.17,394.76 L371.35,386.2 L371.53,379.47 L371.71,375.66 L371.89,375.39 L372.07,378.69 L372.25,385.04 L372.43,393.41 L372.61,402.06 L372.79,409.64 L372.97,415.28 L373.15,418.08 L373.33,419.53 L373.51,415.44 L373.69,408.49 L373.87,399.78 L374.05,390.6 L374.23,382.51 L374.42,376.85 L374.6,374.54 L374.78,375.94 L374.96,380.82 L375.14,388.41 L375.32,397.48 L375.5,406.42 L375.68,413.94 L375.86,418.82 L376.04,419.97 L376.22,417.81 L376.4,412.4 L376.58,404.6 L376.76,395.69 L376.94,387.11 L377.12,380.23 L377.3,376.14 L377.48,375.51 L377.66,378.43 L377.84,384.45 L378.03,392.58 L378.21,401.54 L378.39,409.88 L378.57,416.25 L378.75,419.62 L378.93,419.21 L379.11,415.55 L379.29,409 L379.47,400.61 L379.65,391.57 L379.83,383.41 L380.01,377.54 L380.19,374.9 L380.37,375.91 L380.55,380.42 L380.73,387.7 L380.91,396.56 L381.09,405.37 L381.27,412.9 L381.45,417.97 L381.64,419.75 L381.82,417.52 L382,412.57 L382.18,405.21 L382.36,396.57 L382.54,387.77 L382.72,380.54 L382.9,376.07 L383.08,375.06 L383.26,377.69 L383.44,383.52 L383.62,391.61 L383.8,400.55 L383.98,408.75 L384.16,415.16 L384.34,418.74 L384.52,419.1 L384.7,415.81 L384.88,409.59 L385.06,401.44 L385.25,392.82 L385.43,385.08 L385.61,379.36 L385.79,376.57 L385.97,377.17 L386.15,381.07 L386.33,387.62 L386.51,395.78 L386.69,404.44 L386.87,412.05 L387.05,417.33 L387.23,419.44 L387.41,418.16 L387.59,413.43 L387.77,406.15 L387.95,397.48 L388.13,388.52 L388.31,381.01 L388.49,376.18 L388.67,374.79 L388.86,377.08 L389.04,382.68 L389.22,390.68 L389.4,399.71 L389.58,408.15 L389.76,414.89 L389.94,418.84 L390.12,419.14 L390.3,416.2 L390.48,410.27 L390.66,402.29 L390.84,393.43 L391.02,385.1 L391.2,378.78 L391.38,375.49 L391.56,375.76 L391.74,379.55 L391.92,386.25 L392.1,394.77 L392.28,403.57 L392.47,411.31 L392.65,416.85 L392.83,419.29 L393.01,417.05 L393.19,412.92 L393.37,406.33 L393.55,398.33 L393.73,389.76 L393.91,382.41 L394.09,377.5 L394.27,375.84 L394.45,377.68 L394.63,382.72 L394.81,390.17 L394.99,398.74 L395.17,406.7 L395.35,413.19 L395.53,417.18 L395.71,419.69 L395.89,417.03 L396.08,411.24 L396.26,403.26 L396.44,394.52 L396.62,386.54 L396.8,380.35 L396.98,376.94 L397.16,376.86 L397.34,380.11 L397.52,386.18 L397.7,394.09 L397.88,402.82 L398.06,410.89 L398.24,416.81 L398.42,419.64 L398.6,419.2 L398.78,415 L398.96,407.99 L399.14,399.3 L399.32,390.16 L399.5,382.16 L399.69,376.66 L399.87,374.53 L400.05,376.11 L400.23,381.15 L400.41,388.85 L400.59,397.94 L400.77,406.76 L400.95,414.1 L401.13,418.78 L401.31,418.93 L401.49,416.7 L401.67,411.4 L401.85,403.87 L402.03,395.25 L402.21,386.78 L402.39,380.04 L402.57,376.14 L402.75,375.69 L402.93,378.77 L403.11,384.88 L403.3,393.04 L403.48,401.78 L403.66,409.69 L403.84,415.64 L404.02,418.69 L404.2,420.17 L404.38,416.16 L404.56,409.16 L404.74,400.3 L404.92,391.14 L405.1,383.09 L405.28,377.37 L405.46,374.91 L405.64,376.11 L405.82,380.77 L406,388.13 L406.18,397.03 L406.36,406.2 L406.54,414 L406.72,419.16 L406.91,420.6 L407.09,418.57 L407.27,413.15 L407.45,405.24 L407.63,396.08 L407.81,387.14 L407.99,379.88 L408.17,375.47 L408.35,374.63 L408.53,377.48 L408.71,383.58 L408.89,391.94 L409.07,401.19 L409.25,409.83 L409.43,416.51 L409.61,420.14 L409.79,417.55 L409.97,414.34 L410.15,408.43 L410.33,400.78 L410.52,392.03 L410.7,383.82 L410.88,377.82 L411.06,375.01 L411.24,375.84 L411.42,380.17 L411.6,387.31 L411.78,396.11 L411.96,404.36 L412.14,411.37 L412.32,416.16 L412.5,417.96 L412.68,418.14 L412.86,413.22 L413.04,405.79 L413.22,397.01 L413.4,387.94 L413.58,380.42 L413.76,375.66 L413.94,374.44 L414.13,376.95 L414.31,382.79 L414.49,391.01 L414.67,400.17 L414.85,408.61 L415.03,415.28 L415.21,419.1 L415.39,419.35 L415.57,416.21 L415.75,410.06 L415.93,401.91 L416.11,393.08 L416.29,384.99 L416.47,378.92 L416.65,375.87 L416.83,376.31 L417.01,380.19 L417.19,386.87 L417.37,395.27 L417.55,404.07 L417.74,411.83 L417.92,417.3 L418.1,419.6 L418.28,420.33 L418.46,415.3 L418.64,407.42 L418.82,397.97 L419,388.9 L419.18,381.26 L419.36,376.25 L419.54,374.68 L419.72,376.8 L419.9,382.27 L420.08,390.21 L420.26,399.43 L420.44,408.74 L420.62,416.26 L420.8,420.78 L420.98,420 L421.16,417.12 L421.35,411.1 L421.53,402.91 L421.71,393.93 L421.89,385.66 L422.07,379.31 L422.25,375.91 L422.43,375.99 L422.61,379.56 L422.79,386.04 L422.97,394.37 L423.15,403.35 L423.33,411.46 L423.51,417.34 L423.69,420.05 L423.87,418.52 L424.05,414.26 L424.23,407.32 L424.41,398.82 L424.59,389.66 L424.77,381.71 L424.96,376.32 L425.14,374.35 L425.32,376.13 L425.5,381.37 L425.68,389.22 L425.86,398.37 L426.04,406.92 L426.22,413.97 L426.4,418.38 L426.58,421.62 L426.76,418.92 L426.94,412.79 L427.12,404.21 L427.3,394.69 L427.48,385.91 L427.66,379.01 L427.84,375.1 L428.02,374.82 L428.2,378.21 L428.38,384.72 L428.57,393.31 L428.75,402.79 L428.93,411.63 L429.11,418.2 L429.29,421.46 L429.47,418.63 L429.65,414.71 L429.83,408.04 L430.01,399.69 L430.19,391.14 L430.37,383.69 L430.55,378.47 L430.73,376.34 L430.91,377.63 L431.09,382.13 L431.27,389.13 L431.45,397.49 L431.63,406.06 L431.81,413.27 L431.99,417.95 L432.18,419.3 L432.36,417.2 L432.54,411.96 L432.72,404.39 L432.9,395.77 L433.08,387.54 L433.26,380.93 L433.44,377.01 L433.62,376.41 L433.8,379.21 L433.98,384.98 L434.16,392.78 L434.34,401.42 L434.52,409.52 L434.7,415.69 L434.88,418.96 L435.06,420.96 L435.24,417 L435.42,409.92 L435.6,400.86 L435.79,391.9 L435.97,384.18 L436.15,378.62 L436.33,376.12 L436.51,377.08 L436.69,381.35 L436.87,388.23 L437.05,396.62 L437.23,406 L437.41,414.14 L437.59,419.62 L437.77,421.55 L437.95,417.58 L438.13,412.61 L438.31,405.23 L438.49,396.54 L438.67,387.47 L438.85,380.03 L439.03,375.41 L439.21,374.38 L439.4,377.08 L439.58,383.09 L439.76,391.43 L439.94,400.55 L440.12,408.78 L440.3,415.21 L440.48,418.8 L440.66,419.59 L440.84,416.23 L441.02,409.87 L441.2,401.53 L441.38,392.62 L441.56,384.57 L441.74,378.61 L441.92,375.71 L442.1,376.34 L442.28,380.39 L442.46,387.21 L442.64,395.71 L442.82,404.6 L443.01,412.38 L443.19,417.79 L443.37,419.94 L443.55,417.72 L443.73,413.09 L443.91,405.96 L444.09,397.49 L444.27,388.64 L444.45,381.24 L444.63,376.47 L444.81,375.1 L444.99,377.36 L445.17,382.88 L445.35,390.77 L445.53,399.66 L445.71,407.92 L445.89,414.52 L446.07,418.39 L446.25,420.18 L446.43,417.1 L446.62,410.87 L446.8,402.51 L446.98,393.56 L447.16,385.47 L447.34,379.34 L447.52,376.16 L447.7,376.42 L447.88,380.1 L448.06,386.59 L448.24,394.86 L448.42,403.85 L448.6,411.97 L448.78,417.78 L448.96,420.33 L449.14,417.91 L449.32,413.6 L449.5,406.71 L449.68,398.36 L449.86,389.58 L450.04,382.07 L450.23,377.06 L450.41,375.35 L450.59,377.23 L450.77,382.39 L450.95,390 L451.13,398.79 L451.31,407.1 L451.49,413.89 L451.67,418.05 L451.85,418.79 L452.03,416.24 L452.21,410.69 L452.39,403.03 L452.57,394.39 L452.75,386.11 L452.93,379.68 L453.11,376.13 L453.29,376.04 L453.47,379.42 L453.65,385.73 L453.84,393.96 L454.02,402.61 L454.2,410.35 L454.38,416.03 L454.56,418.75 L454.74,420.74 L454.92,416.23 L455.1,408.72 L455.28,399.42 L455.46,390.54 L455.64,382.97 L455.82,377.75 L456,375.73 L456.18,377.23 L456.36,382.01 L456.54,389.3 L456.72,397.97 L456.9,407.41 L457.08,415.27 L457.26,420.29 L457.45,421.5 L457.63,419 L457.81,413.06 L457.99,404.63 L458.17,395.23 L458.35,386.65 L458.53,379.83 L458.71,375.88 L458.89,375.43 L459.07,378.54 L459.25,384.73 L459.43,392.99 L459.61,402.29 L459.79,411.14 L459.97,417.81 L460.15,421.23 L460.33,418.51 L460.51,414.8 L460.69,408.31 L460.87,400.1 L461.06,391.23 L461.24,383.29 L461.42,377.65 L461.6,375.23 L461.78,376.41 L461.96,381 L462.14,388.26 L462.32,397.03 L462.5,405.57 L462.68,412.8 L462.86,417.58 L463.04,418.02 L463.22,416.21 L463.4,411.41 L463.58,404.38 L463.76,396.08 L463.94,387.11 L464.12,379.83 L464.3,375.41 L464.48,374.57 L464.67,377.43 L464.85,383.55 L465.03,391.92 L465.21,400.78 L465.39,408.46 L465.57,414.39 L465.75,417.61 L465.93,420.33 L466.11,416.67 L466.29,409.94 L466.47,401.22 L466.65,392.05 L466.83,383.86 L467.01,377.88 L467.19,375.08 L467.37,375.91 L467.55,380.23 L467.73,387.35 L467.91,396.11 L468.09,405.3 L468.28,413.29 L468.46,418.74 L468.64,420.8 L468.82,418.37 L469,413.4 L469.18,405.88 L469.36,397.01 L469.54,387.93 L469.72,380.4 L469.9,375.65 L470.08,374.42 L470.26,376.94 L470.44,382.78 L470.62,391 L470.8,400.2 L470.98,408.73 L471.16,415.48 L471.34,419.35 L471.52,419.18 L471.7,416.06 L471.89,409.97 L472.07,401.88 L472.25,392.86 L472.43,384.37 L472.61,378.01 L472.79,374.8 L472.97,375.27 L473.15,379.33 L473.33,386.34 L473.51,395.16 L473.69,404.02 L473.87,411.72 L474.05,417.15 L474.23,419.43 L474.41,419.19 L474.59,414.42 L474.77,406.93 L474.95,397.95 L475.13,388.74 L475.31,380.94 L475.5,375.84 L475.68,374.23 L475.86,376.39 L476.04,381.97 L476.22,390.06 L476.4,399.34 L476.58,408.19 L476.76,415.33 L476.94,419.62 L477.12,420.19 L477.3,417.29 L477.48,411.22 L477.66,402.95 L477.84,393.85 L478.02,385.37 L478.2,378.87 L478.38,375.38 L478.56,375.48 L478.74,379.13 L478.92,385.76 L479.11,394.3 L479.29,403.4 L479.47,411.58 L479.65,417.52 L479.83,420.24 L480.01,419.51 L480.19,415.06 L480.37,407.79 L480.55,398.88 L480.73,390.28 L480.91,382.94 L481.09,377.97 L481.27,376.16 L481.45,377.8 L481.63,382.63 L481.81,389.87 L481.99,398.41 L482.17,407.37 L482.35,414.75 L482.53,419.37 L482.72,420.27 L482.9,417.72 L483.08,411.93 L483.26,403.84 L483.44,394.69 L483.62,385.93 L483.8,379.04 L483.98,375.15 L484.16,374.87 L484.34,378.25 L484.52,384.74 L484.7,393.31 L484.88,402.5 L485.06,410.84 L485.24,417.04 L485.42,420.11 L485.6,418.71 L485.78,414.78 L485.96,408.08 L486.14,399.69 L486.33,390.53 L486.51,382.36 L486.69,376.65 L486.87,374.31 L487.05,375.72 L487.23,380.66 L487.41,388.32 L487.59,397.48 L487.77,406.09 L487.95,413.33 L488.13,418.03 L488.31,420.59 L488.49,418.37 L488.67,412.81 L488.85,404.8 L489.03,395.61 L489.21,386.69 L489.39,379.53 L489.57,375.28 L489.75,374.62 L489.94,377.67 L490.12,383.92 L490.3,392.38 L490.48,401.65 L490.66,410.23 L490.84,416.77 L491.02,420.23 L491.2,419.75 L491.38,416 L491.56,409.28 L491.74,400.69 L491.92,391.68 L492.1,383.66 L492.28,377.9 L492.46,375.3 L492.64,376.3 L492.82,380.72 L493,387.87 L493.18,396.58 L493.36,405.57 L493.55,413.29 L493.73,418.48 L493.91,420.31 L494.09,417.06 L494.27,412.22 L494.45,405.03 L494.63,396.57 L494.81,387.72 L494.99,380.47 L495.17,375.98 L495.35,374.96 L495.53,377.6 L495.71,383.45 L495.89,391.59 L496.07,400.48 L496.25,408.49 L496.43,414.75 L496.61,418.25 L496.79,421.28 L496.97,417.66 L497.16,410.81 L497.34,401.83 L497.52,392.74 L497.7,384.88 L497.88,379.06 L498.06,376.23 L498.24,376.84 L498.42,380.8 L498.6,387.46 L498.78,395.75 L498.96,405.13 L499.14,413.52 L499.32,419.34 L499.5,421.66 L499.68,418.12 L499.86,413.4 L500.04,406.13 L500.22,397.48 L500.4,388.45 L500.58,380.89 L500.77,376.02 L500.95,374.62 L501.13,376.93 L501.31,382.57 L501.49,390.62 L501.67,399.7 L501.85,408.13 L502.03,414.86 L502.21,418.81 L502.39,418.7 L502.57,415.82 L502.75,410.01 L502.93,402.19 L503.11,393.44 L503.29,385.12 L503.47,378.81 L503.65,375.53 L503.83,375.8 L504.01,379.58 L504.19,386.27 L504.38,394.78 L504.56,403.44 L504.74,411.03 L504.92,416.46 L505.1,418.84 L505.28,419.38 L505.46,414.76 L505.64,407.37 L505.82,398.41 L506,389.77 L506.18,382.43 L506.36,377.54 L506.54,375.87 L506.72,377.71 L506.9,382.75" fill="none" stroke="#ec7f30" stroke-width="0.85" stroke-linejoin="round" />
<path d="M325.5,464.2 L325.5,464.96 L325.7,464.84 L325.9,464.6 L326.1,464.23 L326.3,463.7 L326.5,463.01 L326.7,462.14 L326.9,461.09 L327.1,459.85 L327.3,458.43 L327.5,456.83 L327.7,455.05 L327.9,453.1 L328.1,450.99 L328.3,448.73 L328.5,446.33 L328.7,443.81 L328.9,441.19 L329.1,438.48 L329.2,437.1 L329.4,439.84 L329.6,442.51 L329.8,445.08 L330,447.54 L330.2,449.88 L330.4,452.06 L330.6,454.1 L330.8,455.96 L331,457.66 L331.2,459.17 L331.4,460.49 L331.6,461.64 L331.8,462.6 L332,463.38 L332.2,463.99 L332.4,464.44 L332.6,464.74 L332.8,464.92 L333,464.99 L333.2,465 L333.4,464.96 L333.6,464.84 L333.8,464.59 L334,464.2 L334.2,463.65 L334.4,462.93 L334.6,462.03 L334.8,460.93 L335,459.65 L335.2,458.18 L335.4,456.51 L335.6,454.66 L335.8,452.63 L336,450.44 L336.2,448.08 L336.4,445.59 L336.6,442.97 L336.8,440.25 L337,437.43 L337.1,436 L337.3,438.82 L337.5,441.56 L337.7,444.2 L337.9,446.73 L338.1,449.13 L338.3,451.39 L338.5,453.49 L338.7,455.42 L338.9,457.18 L339.1,458.75 L339.3,460.14 L339.5,461.34 L339.7,462.35 L339.9,463.18 L340.1,463.84 L340.3,464.33 L340.5,464.67 L340.7,464.88 L340.9,464.98 L341.1,465 L341.3,464.98 L341.5,464.88 L341.7,464.67 L341.9,464.32 L342.1,463.82 L342.3,463.16 L342.5,462.32 L342.7,461.29 L342.9,460.07 L343.1,458.67 L343.3,457.07 L343.5,455.29 L343.7,453.33 L343.9,451.2 L344.1,448.91 L344.3,446.48 L344.5,443.91 L344.7,441.23 L344.9,438.45 L345.1,435.6 L345.1,435.6 L345.3,438.72 L345.5,441.75 L345.7,444.66 L345.9,447.43 L346.1,450.03 L346.3,452.45 L346.5,454.66 L346.7,456.67 L346.9,458.46 L347.1,460.02 L347.3,461.35 L347.5,462.45 L347.7,463.34 L347.9,464.01 L348.1,464.49 L348.3,464.8 L348.5,464.95 L348.7,465 L348.9,464.99 L349.1,464.93 L349.3,464.78 L349.5,464.52 L349.7,464.14 L349.9,463.62 L350.1,462.96 L350.3,462.16 L350.5,461.2 L350.7,460.09 L350.9,458.83 L351.1,457.43 L351.3,455.89 L351.5,454.22 L351.7,452.44 L351.9,450.56 L352.1,448.59 L352.3,446.54 L352.4,445.5 L352.6,447.47 L352.8,449.38 L353,451.22 L353.2,452.97 L353.4,454.63 L353.6,456.19 L353.8,457.63 L354,458.94 L354.2,460.13 L354.4,461.18 L354.6,462.09 L354.8,462.87 L355,463.52 L355.2,464.03 L355.4,464.43 L355.6,464.71 L355.8,464.88 L356,464.97 L356.2,465 L356.4,464.99 L356.6,464.94 L356.8,464.81 L357,464.59 L357.2,464.26 L357.4,463.81 L357.6,463.24 L357.8,462.54 L358,461.7 L358.2,460.73 L358.4,459.63 L358.6,458.4 L358.8,457.05 L359,455.57 L359.2,453.99 L359.4,452.3 L359.6,450.53 L359.8,448.68 L360,446.77 L360.1,445.8 L360.3,447.9 L360.5,449.93 L360.7,451.88 L360.9,453.72 L361.1,455.45 L361.3,457.06 L361.5,458.52 L361.7,459.84 L361.9,461 L362.1,462.01 L362.3,462.86 L362.5,463.55 L362.7,464.09 L362.9,464.49 L363.1,464.77 L363.3,464.92 L363.5,464.99 L363.7,465 L363.9,464.95 L364.1,464.77 L364.3,464.42 L364.5,463.86 L364.7,463.09 L364.9,462.07 L365.1,460.8 L365.3,459.28 L365.5,457.49 L365.7,455.45 L365.9,453.16 L366.1,450.63 L366.3,447.89 L366.5,444.94 L366.7,441.82 L366.9,438.54 L367.1,435.14 L367.2,433.4 L367.4,436.47 L367.6,439.45 L367.8,442.33 L368,445.09 L368.2,447.71 L368.4,450.17 L368.6,452.46 L368.8,454.56 L369,456.48 L369.2,458.19 L369.4,459.7 L369.6,461.01 L369.8,462.11 L370,463.02 L370.2,463.74 L370.4,464.27 L370.6,464.64 L370.8,464.87 L371,464.98 L371.2,465 L371.4,464.98 L371.6,464.9 L371.8,464.71 L372,464.41 L372.2,463.98 L372.4,463.4 L372.6,462.66 L372.8,461.77 L373,460.71 L373.2,459.48 L373.4,458.09 L373.6,456.54 L373.8,454.84 L374,452.98 L374.2,450.99 L374.4,448.87 L374.6,446.64 L374.8,444.3 L375,441.89 L375.2,439.4 L375.2,439.4 L375.4,442.01 L375.6,444.55 L375.8,447 L376,449.33 L376.2,451.53 L376.4,453.59 L376.6,455.48 L376.8,457.22 L377,458.77 L377.2,460.15 L377.4,461.34 L377.6,462.35 L377.8,463.18 L378,463.84 L378.2,464.33 L378.4,464.67 L378.6,464.88 L378.8,464.98 L379,465 L379.2,464.98 L379.4,464.89 L379.6,464.69 L379.8,464.37 L380,463.9 L380.2,463.28 L380.4,462.5 L380.6,461.54 L380.8,460.41 L381,459.11 L381.2,457.64 L381.4,456.01 L381.6,454.21 L381.8,452.27 L382,450.19 L382.2,447.98 L382.4,445.67 L382.6,443.27 L382.8,440.8 L382.8,440.8 L383,443.15 L383.2,445.44 L383.4,447.64 L383.6,449.75 L383.8,451.76 L384,453.64 L384.2,455.39 L384.4,457.01 L384.6,458.47 L384.8,459.79 L385,460.94 L385.2,461.94 L385.4,462.79 L385.6,463.48 L385.8,464.03 L386,464.44 L386.2,464.73 L386.4,464.9 L386.6,464.98 L386.8,465 L387,464.98 L387.2,464.88 L387.4,464.67 L387.6,464.32 L387.8,463.81 L388,463.14 L388.2,462.29 L388.4,461.25 L388.6,460.02 L388.8,458.6 L389,456.99 L389.2,455.19 L389.4,453.21 L389.6,451.06 L389.8,448.75 L390,446.29 L390.2,443.7 L390.4,440.99 L390.6,438.18 L390.8,435.3 L390.8,435.3 L391,438.18 L391.2,440.99 L391.4,443.7 L391.6,446.29 L391.8,448.75 L392,451.06 L392.2,453.21 L392.4,455.19 L392.6,456.99 L392.8,458.6 L393,460.02 L393.2,461.25 L393.4,462.29 L393.6,463.14 L393.8,463.81 L394,464.32 L394.2,464.67 L394.4,464.88 L394.6,464.98 L394.8,465 L395,464.98 L395.2,464.89 L395.4,464.69 L395.6,464.36 L395.8,463.88 L396,463.25 L396.2,462.45 L396.4,461.48 L396.6,460.32 L396.8,458.99 L397,457.47 L397.2,455.78 L397.4,453.93 L397.6,451.91 L397.8,449.73 L398,447.42 L398.2,444.99 L398.4,442.44 L398.6,439.81 L398.8,437.1 L398.8,437.1 L399,439.78 L399.2,442.38 L399.4,444.9 L399.6,447.31 L399.8,449.59 L400,451.75 L400.2,453.76 L400.4,455.61 L400.6,457.3 L400.8,458.81 L401,460.15 L401.2,461.32 L401.4,462.31 L401.6,463.13 L401.8,463.78 L402,464.28 L402.2,464.63 L402.4,464.85 L402.6,464.97 L402.8,465 L403,464.99 L403.2,464.92 L403.4,464.74 L403.6,464.45 L403.8,464.01 L404,463.41 L404.2,462.65 L404.4,461.71 L404.6,460.59 L404.8,459.29 L405,457.8 L405.2,456.14 L405.4,454.3 L405.6,452.29 L405.8,450.13 L406,447.81 L406.2,445.37 L406.4,442.81 L406.6,440.15 L406.8,437.4 L406.9,436 L407.1,438.92 L407.3,441.76 L407.5,444.5 L407.7,447.11 L407.9,449.58 L408.1,451.89 L408.3,454.03 L408.5,455.99 L408.7,457.75 L408.9,459.31 L409.1,460.68 L409.3,461.84 L409.5,462.8 L409.7,463.56 L409.9,464.15 L410.1,464.56 L410.3,464.82 L410.5,464.96 L410.7,465 L410.9,464.99 L411.1,464.92 L411.3,464.75 L411.5,464.47 L411.7,464.05 L411.9,463.48 L412.1,462.74 L412.3,461.85 L412.5,460.78 L412.7,459.53 L412.9,458.12 L413.1,456.55 L413.3,454.81 L413.5,452.92 L413.7,450.89 L413.9,448.73 L414.1,446.46 L414.3,444.1 L414.5,441.65 L414.6,440.4 L414.8,442.98 L415,445.48 L415.2,447.89 L415.4,450.18 L415.6,452.33 L415.8,454.34 L416,456.18 L416.2,457.86 L416.4,459.35 L416.6,460.67 L416.8,461.79 L417,462.73 L417.2,463.49 L417.4,464.08 L417.6,464.51 L417.8,464.79 L418,464.94 L418.2,465 L418.4,465 L418.6,464.93 L418.8,464.76 L419,464.45 L419.2,463.97 L419.4,463.32 L419.6,462.47 L419.8,461.41 L420,460.15 L420.2,458.69 L420.4,457.02 L420.6,455.14 L420.8,453.08 L421,450.84 L421.2,448.43 L421.4,445.87 L421.6,443.18 L421.8,440.38 L422,437.5 L422,437.5 L422.2,440.31 L422.4,443.04 L422.6,445.66 L422.8,448.17 L423,450.53 L423.2,452.74 L423.4,454.78 L423.6,456.64 L423.8,458.31 L424,459.79 L424.2,461.07 L424.4,462.16 L424.6,463.05 L424.8,463.75 L425,464.28 L425.2,464.65 L425.4,464.87 L425.6,464.98 L425.8,465 L426,464.98 L426.2,464.87 L426.4,464.65 L426.6,464.28 L426.8,463.75 L427,463.05 L427.2,462.16 L427.4,461.07 L427.6,459.79 L427.8,458.31 L428,456.64 L428.2,454.78 L428.4,452.74 L428.6,450.53 L428.8,448.17 L429,445.66 L429.2,443.04 L429.4,440.31 L429.6,437.5 L429.6,437.5 L429.8,440.17 L430,442.77 L430.2,445.28 L430.4,447.68 L430.6,449.95 L430.8,452.09 L431,454.08 L431.2,455.92 L431.4,457.58 L431.6,459.07 L431.8,460.39 L432,461.53 L432.2,462.49 L432.4,463.28 L432.6,463.9 L432.8,464.37 L433,464.69 L433.2,464.89 L433.4,464.98 L433.6,465 L433.8,464.98 L434,464.88 L434.2,464.67 L434.4,464.33 L434.6,463.84 L434.8,463.18 L435,462.35 L435.2,461.34 L435.4,460.14 L435.6,458.75 L435.8,457.18 L436,455.42 L436.2,453.49 L436.4,451.39 L436.6,449.13 L436.8,446.73 L437,444.2 L437.2,441.56 L437.4,438.82 L437.6,436 L437.6,436 L437.8,438.96 L438,441.84 L438.2,444.61 L438.4,447.25 L438.6,449.74 L438.8,452.07 L439,454.22 L439.2,456.18 L439.4,457.95 L439.6,459.5 L439.8,460.86 L440,462 L440.2,462.94 L440.4,463.68 L440.6,464.24 L440.8,464.63 L441,464.86 L441.2,464.98 L441.4,465 L441.6,464.98 L441.8,464.87 L442,464.65 L442.2,464.29 L442.4,463.77 L442.6,463.07 L442.8,462.19 L443,461.11 L443.2,459.85 L443.4,458.38 L443.6,456.73 L443.8,454.89 L444,452.87 L444.2,450.69 L444.4,448.35 L444.6,445.87 L444.8,443.28 L445,440.58 L445.2,437.8 L445.2,437.8 L445.4,440.44 L445.6,443.01 L445.8,445.49 L446,447.86 L446.2,450.12 L446.4,452.23 L446.6,454.2 L446.8,456.02 L447,457.66 L447.2,459.14 L447.4,460.44 L447.6,461.57 L447.8,462.52 L448,463.3 L448.2,463.91 L448.4,464.37 L448.6,464.69 L448.8,464.89 L449,464.98 L449.2,465 L449.4,464.98 L449.6,464.89 L449.8,464.69 L450,464.36 L450.2,463.88 L450.4,463.25 L450.6,462.45 L450.8,461.48 L451,460.32 L451.2,458.99 L451.4,457.47 L451.6,455.78 L451.8,453.93 L452,451.91 L452.2,449.73 L452.4,447.42 L452.6,444.99 L452.8,442.44 L453,439.81 L453.2,437.1 L453.2,437.1 L453.4,440.07 L453.6,442.94 L453.8,445.7 L454,448.32 L454.2,450.79 L454.4,453.09 L454.6,455.19 L454.8,457.1 L455,458.79 L455.2,460.27 L455.4,461.54 L455.6,462.58 L455.8,463.42 L456,464.06 L456.2,464.52 L456.4,464.81 L456.6,464.96 L456.8,465 L457,464.99 L457.2,464.9 L457.4,464.7 L457.6,464.36 L457.8,463.85 L458,463.16 L458.2,462.28 L458.4,461.21 L458.6,459.93 L458.8,458.45 L459,456.77 L459.2,454.9 L459.4,452.85 L459.6,450.63 L459.8,448.25 L460,445.74 L460.2,443.11 L460.4,440.39 L460.5,439 L460.7,441.69 L460.9,444.3 L461.1,446.81 L461.3,449.21 L461.5,451.46 L461.7,453.57 L461.9,455.51 L462.1,457.27 L462.3,458.85 L462.5,460.25 L462.7,461.45 L462.9,462.46 L463.1,463.28 L463.3,463.93 L463.5,464.4 L463.7,464.72 L463.9,464.91 L464.1,464.99 L464.3,465 L464.5,464.96 L464.7,464.82 L464.9,464.56 L465.1,464.14 L465.3,463.55 L465.5,462.77 L465.7,461.8 L465.9,460.63 L466.1,459.26 L466.3,457.69 L466.5,455.92 L466.7,453.96 L466.9,451.82 L467.1,449.51 L467.3,447.05 L467.5,444.45 L467.7,441.74 L467.9,438.93 L468,437.5 L468.2,440.59 L468.4,443.58 L468.6,446.44 L468.8,449.14 L469,451.67 L469.2,454 L469.4,456.12 L469.6,458.01 L469.8,459.67 L470,461.09 L470.2,462.27 L470.4,463.22 L470.6,463.94 L470.8,464.45 L471,464.78 L471.2,464.95 L471.4,465 L471.6,464.99 L471.8,464.88 L472,464.64 L472.2,464.23 L472.4,463.63 L472.6,462.8 L472.8,461.76 L473,460.47 L473.2,458.96 L473.4,457.21 L473.6,455.23 L473.8,453.04 L474,450.64 L474.2,448.06 L474.4,445.32 L474.6,442.43 L474.8,439.43 L474.9,437.9 L475.1,440.78 L475.3,443.57 L475.5,446.25 L475.7,448.8 L475.9,451.2 L476.1,453.43 L476.3,455.47 L476.5,457.32 L476.7,458.97 L476.9,460.41 L477.1,461.63 L477.3,462.65 L477.5,463.47 L477.7,464.09 L477.9,464.53 L478.1,464.81 L478.3,464.96 L478.5,465 L478.7,464.99 L478.9,464.9 L479.1,464.69 L479.3,464.33 L479.5,463.8 L479.7,463.08 L479.9,462.16 L480.1,461.03 L480.3,459.7 L480.5,458.15 L480.7,456.39 L480.9,454.44 L481.1,452.29 L481.3,449.97 L481.5,447.48 L481.7,444.85 L481.9,442.1 L482.1,439.25 L482.2,437.8 L482.4,440.32 L482.6,442.77 L482.8,445.14 L483,447.42 L483.2,449.59 L483.4,451.64 L483.6,453.56 L483.8,455.34 L484,456.98 L484.2,458.46 L484.4,459.78 L484.6,460.94 L484.8,461.95 L485,462.8 L485.2,463.49 L485.4,464.04 L485.6,464.45 L485.8,464.73 L486,464.9 L486.2,464.98 L486.4,465 L486.6,464.98 L486.8,464.89 L487,464.71 L487.2,464.41 L487.4,463.97 L487.6,463.39 L487.8,462.65 L488,461.75 L488.2,460.68 L488.4,459.44 L488.6,458.03 L488.8,456.45 L489,454.71 L489.2,452.81 L489.4,450.76 L489.6,448.57 L489.8,446.26 L490,443.83 L490.2,441.3 L490.4,438.68 L490.6,436 L490.6,436 L490.8,438.82 L491,441.56 L491.2,444.2 L491.4,446.73 L491.6,449.13 L491.8,451.39 L492,453.49 L492.2,455.42 L492.4,457.18 L492.6,458.75 L492.8,460.14 L493,461.34 L493.2,462.35 L493.4,463.18 L493.6,463.84 L493.8,464.33 L494,464.67 L494.2,464.88 L494.4,464.98 L494.6,465 L494.8,464.98 L495,464.87 L495.2,464.65 L495.4,464.27 L495.6,463.74 L495.8,463.03 L496,462.12 L496.2,461.02 L496.4,459.72 L496.6,458.21 L496.8,456.5 L497,454.6 L497.2,452.5 L497.4,450.22 L497.6,447.76 L497.8,445.16 L498,442.41 L498.2,439.53 L498.4,436.56 L498.6,433.5 L498.6,433.5 L498.8,436.56 L499,439.53 L499.2,442.41 L499.4,445.16 L499.6,447.76 L499.8,450.22 L500,452.5 L500.2,454.6 L500.4,456.5 L500.6,458.21 L500.8,459.72 L501,461.02 L501.2,462.12 L501.4,463.03 L501.6,463.74 L501.8,464.27 L502,464.65 L502.2,464.87 L502.4,464.98 L502.6,465 L505.5,463.6" fill="none" stroke="#3494d0" stroke-width="1.05" stroke-linejoin="round" />
<path d="M325.5,510.5 L325.5,503.5 L325.7,501.67 L325.9,499.69 L326.1,497.55 L326.3,495.27 L326.5,492.86 L326.6,491.6 L326.8,494.08 L327,496.43 L327.2,498.64 L327.4,500.7 L327.6,502.61 L327.8,504.35 L328,505.93 L328.2,507.36 L328.4,508.62 L328.6,509.72 L328.8,510.68 L329,511.49 L329.2,512.17 L329.4,512.72 L329.6,513.17 L329.8,513.51 L330,513.76 L330.2,513.95 L330.4,514.07 L330.6,514.14 L330.8,514.18 L331,514.2 L331.2,514.2 L331.4,514.2 L331.6,514.2 L331.8,514.19 L332,514.17 L332.2,514.12 L332.4,514.04 L332.6,513.92 L332.8,513.74 L333,513.5 L333.2,513.17 L333.4,512.76 L333.6,512.25 L333.8,511.64 L334,510.91 L334.2,510.05 L334.4,509.08 L334.6,507.97 L334.8,506.72 L335,505.35 L335.2,503.83 L335.4,502.19 L335.6,500.43 L335.8,498.54 L336,496.54 L336.1,495.5 L336.3,497.93 L336.5,500.2 L336.7,502.3 L336.9,504.22 L337.1,505.96 L337.3,507.52 L337.5,508.88 L337.7,510.05 L337.9,511.05 L338.1,511.88 L338.3,512.55 L338.5,513.08 L338.7,513.48 L338.9,513.77 L339.1,513.97 L339.3,514.09 L339.5,514.16 L339.7,514.19 L339.9,514.2 L340.1,514.2 L340.3,514.2 L340.5,514.19 L340.7,514.16 L340.9,514.09 L341.1,513.96 L341.3,513.76 L341.5,513.47 L341.7,513.06 L341.9,512.53 L342.1,511.84 L342.3,511 L342.5,509.99 L342.7,508.79 L342.9,507.41 L343.1,505.83 L343.3,504.06 L343.5,502.11 L343.7,499.97 L343.9,497.66 L344.1,495.2 L344.1,495.2 L344.3,498.3 L344.5,501.15 L344.7,503.71 L344.9,505.96 L345.1,507.91 L345.3,509.55 L345.5,510.9 L345.7,511.96 L345.9,512.77 L346.1,513.36 L346.3,513.75 L346.5,514 L346.7,514.13 L346.9,514.18 L347.1,514.2 L347.3,514.2 L347.5,514.19 L347.7,514.16 L347.9,514.05 L348.1,513.83 L348.3,513.44 L348.5,512.85 L348.7,512.01 L348.9,510.87 L349.1,509.41 L349.3,507.6 L349.5,505.42 L349.7,502.86 L349.9,499.93 L350.1,496.64 L350.3,493.02 L350.4,491.1 L350.6,494.25 L350.8,497.18 L351,499.89 L351.2,502.35 L351.4,504.55 L351.6,506.5 L351.8,508.19 L352,509.62 L352.2,510.82 L352.4,511.8 L352.6,512.56 L352.8,513.14 L353,513.57 L353.2,513.86 L353.4,514.04 L353.6,514.14 L353.8,514.18 L354,514.2 L354.2,514.2 L354.4,514.2 L354.6,514.19 L354.8,514.15 L355,514.07 L355.2,513.93 L355.4,513.71 L355.6,513.39 L355.8,512.94 L356,512.35 L356.2,511.6 L356.4,510.67 L356.6,509.57 L356.8,508.27 L357,506.77 L357.2,505.07 L357.4,503.17 L357.6,501.09 L357.8,498.83 L358,496.4 L358,496.4 L358.2,498.71 L358.4,500.87 L358.6,502.87 L358.8,504.7 L359,506.36 L359.2,507.84 L359.4,509.13 L359.6,510.25 L359.8,511.2 L360,511.99 L360.2,512.63 L360.4,513.13 L360.6,513.51 L360.8,513.79 L361,513.98 L361.2,514.09 L361.4,514.16 L361.6,514.19 L361.8,514.2 L362,514.2 L362.2,514.2 L362.4,514.19 L362.6,514.16 L362.8,514.11 L363,514 L363.2,513.84 L363.4,513.59 L363.6,513.25 L363.8,512.81 L364,512.24 L364.2,511.54 L364.4,510.7 L364.6,509.7 L364.8,508.55 L365,507.24 L365.2,505.77 L365.4,504.15 L365.6,502.37 L365.8,500.45 L366,498.4 L366,498.4 L366.2,500.38 L366.4,502.23 L366.6,503.96 L366.8,505.55 L367,506.99 L367.2,508.28 L367.4,509.43 L367.6,510.43 L367.8,511.28 L368,512 L368.2,512.6 L368.4,513.07 L368.6,513.44 L368.8,513.72 L369,513.92 L369.2,514.05 L369.4,514.13 L369.6,514.18 L369.8,514.19 L370,514.2 L370.2,514.2 L370.4,514.2 L370.6,514.19 L370.8,514.16 L371,514.09 L371.2,513.98 L371.4,513.8 L371.6,513.54 L371.8,513.19 L372,512.73 L372.2,512.15 L372.4,511.43 L372.6,510.58 L372.8,509.57 L373,508.4 L373.2,507.07 L373.4,505.58 L373.6,503.93 L373.8,502.13 L374,500.18 L374.2,498.09 L374.3,497 L374.5,499.31 L374.7,501.48 L374.9,503.47 L375.1,505.29 L375.3,506.92 L375.5,508.36 L375.7,509.62 L375.9,510.69 L376.1,511.59 L376.3,512.32 L376.5,512.91 L376.7,513.35 L376.9,513.68 L377.1,513.91 L377.3,514.06 L377.5,514.14 L377.7,514.18 L377.9,514.2 L378.1,514.2 L378.3,514.2 L378.5,514.2 L378.7,514.18 L378.9,514.14 L379.1,514.06 L379.3,513.94 L379.5,513.76 L379.7,513.5 L379.9,513.16 L380.1,512.73 L380.3,512.19 L380.5,511.53 L380.7,510.76 L380.9,509.87 L381.1,508.85 L381.3,507.7 L381.5,506.44 L381.7,505.06 L381.9,503.58 L382,502.8 L382.2,504.15 L382.4,505.42 L382.6,506.61 L382.8,507.7 L383,508.71 L383.2,509.62 L383.4,510.44 L383.6,511.16 L383.8,511.79 L384,512.33 L384.2,512.79 L384.4,513.16 L384.6,513.46 L384.8,513.7 L385,513.88 L385.2,514.01 L385.4,514.1 L385.6,514.15 L385.8,514.18 L386,514.2 L386.2,514.2 L386.4,514.2 L386.6,514.2 L386.8,514.19 L387,514.17 L387.2,514.12 L387.4,514.04 L387.6,513.91 L387.8,513.71 L388,513.43 L388.2,513.07 L388.4,512.61 L388.6,512.03 L388.8,511.33 L389,510.5 L389.2,509.54 L389.4,508.43 L389.6,507.17 L389.8,505.77 L390,504.23 L390.2,502.54 L390.4,500.72 L390.6,498.77 L390.8,496.7 L390.8,496.7 L391,499.06 L391.2,501.25 L391.4,503.28 L391.6,505.13 L391.8,506.79 L392,508.26 L392.2,509.54 L392.4,510.63 L392.6,511.54 L392.8,512.29 L393,512.88 L393.2,513.34 L393.4,513.67 L393.6,513.91 L393.8,514.06 L394,514.14 L394.2,514.18 L394.4,514.2 L394.6,514.2 L394.8,514.2 L395,514.19 L395.2,514.17 L395.4,514.11 L395.6,513.99 L395.8,513.8 L396,513.52 L396.2,513.13 L396.4,512.61 L396.6,511.94 L396.8,511.11 L397,510.11 L397.2,508.92 L397.4,507.55 L397.6,505.98 L397.8,504.23 L398,502.29 L398.2,500.18 L398.4,497.9 L398.5,496.7 L398.7,499 L398.9,501.15 L399.1,503.13 L399.3,504.95 L399.5,506.59 L399.7,508.05 L399.9,509.32 L400.1,510.42 L400.3,511.35 L400.5,512.12 L400.7,512.73 L400.9,513.22 L401.1,513.58 L401.3,513.83 L401.5,514.01 L401.7,514.11 L401.9,514.17 L402.1,514.19 L402.3,514.2 L402.5,514.2 L402.7,514.2 L402.9,514.18 L403.1,514.14 L403.3,514.05 L403.5,513.89 L403.7,513.64 L403.9,513.29 L404.1,512.8 L404.3,512.17 L404.5,511.38 L404.7,510.4 L404.9,509.23 L405.1,507.86 L405.3,506.28 L405.5,504.5 L405.7,502.5 L405.9,500.3 L406.1,497.91 L406.3,495.35 L406.4,494 L406.6,496.56 L406.8,498.96 L407,501.19 L407.2,503.23 L407.4,505.09 L407.6,506.75 L407.8,508.21 L408,509.49 L408.2,510.58 L408.4,511.49 L408.6,512.24 L408.8,512.84 L409,513.3 L409.2,513.64 L409.4,513.88 L409.6,514.04 L409.8,514.13 L410,514.18 L410.2,514.2 L410.4,514.2 L410.6,514.2 L410.8,514.2 L411,514.18 L411.2,514.14 L411.4,514.05 L411.6,513.9 L411.8,513.68 L412,513.36 L412.2,512.94 L412.4,512.39 L412.6,511.69 L412.8,510.85 L413,509.84 L413.2,508.66 L413.4,507.3 L413.6,505.76 L413.8,504.04 L414,502.15 L414.2,500.09 L414.4,497.87 L414.6,495.5 L414.6,495.5 L414.8,498.26 L415,500.81 L415.2,503.15 L415.4,505.24 L415.6,507.09 L415.8,508.69 L416,510.05 L416.2,511.18 L416.4,512.09 L416.6,512.79 L416.8,513.32 L417,513.7 L417.2,513.94 L417.4,514.09 L417.6,514.16 L417.8,514.19 L418,514.2 L418.2,514.2 L418.4,514.19 L418.6,514.17 L418.8,514.1 L419,513.98 L419.2,513.77 L419.4,513.44 L419.6,512.99 L419.8,512.38 L420,511.6 L420.2,510.63 L420.4,509.46 L420.6,508.08 L420.8,506.49 L421,504.68 L421.2,502.68 L421.4,500.48 L421.6,498.1 L421.6,498.1 L421.8,500.29 L422,502.34 L422.2,504.23 L422.4,505.94 L422.6,507.48 L422.8,508.83 L423,510.01 L423.2,511.01 L423.4,511.85 L423.6,512.52 L423.8,513.06 L424,513.46 L424.2,513.76 L424.4,513.96 L424.6,514.09 L424.8,514.16 L425,514.19 L425.2,514.2 L425.4,514.2 L425.6,514.2 L425.8,514.19 L426,514.16 L426.2,514.08 L426.4,513.95 L426.6,513.74 L426.8,513.43 L427,513.01 L427.2,512.45 L427.4,511.74 L427.6,510.87 L427.8,509.83 L428,508.6 L428.2,507.18 L428.4,505.58 L428.6,503.79 L428.8,501.83 L429,499.69 L429.2,497.4 L429.2,497.4 L429.4,499.66 L429.6,501.77 L429.8,503.72 L430,505.49 L430.2,507.09 L430.4,508.5 L430.6,509.72 L430.8,510.77 L431,511.65 L431.2,512.37 L431.4,512.94 L431.6,513.37 L431.8,513.7 L432,513.92 L432.2,514.06 L432.4,514.14 L432.6,514.18 L432.8,514.2 L433,514.2 L433.2,514.2 L433.4,514.19 L433.6,514.17 L433.8,514.11 L434,513.99 L434.2,513.81 L434.4,513.53 L434.6,513.15 L434.8,512.63 L435,511.98 L435.2,511.16 L435.4,510.18 L435.6,509.01 L435.8,507.66 L436,506.12 L436.2,504.4 L436.4,502.49 L436.6,500.42 L436.8,498.18 L436.9,497 L437.1,499.23 L437.3,501.32 L437.5,503.25 L437.7,505.02 L437.9,506.62 L438.1,508.05 L438.3,509.3 L438.5,510.39 L438.7,511.31 L438.9,512.07 L439.1,512.68 L439.3,513.17 L439.5,513.54 L439.7,513.8 L439.9,513.98 L440.1,514.1 L440.3,514.16 L440.5,514.19 L440.7,514.2 L440.9,514.2 L441.1,514.2 L441.3,514.19 L441.5,514.16 L441.7,514.09 L441.9,513.96 L442.1,513.76 L442.3,513.47 L442.5,513.06 L442.7,512.53 L442.9,511.84 L443.1,511 L443.3,509.99 L443.5,508.79 L443.7,507.41 L443.9,505.83 L444.1,504.06 L444.3,502.11 L444.5,499.97 L444.7,497.66 L444.9,495.2 L444.9,495.2 L445.1,497.89 L445.3,500.4 L445.5,502.69 L445.7,504.76 L445.9,506.61 L446.1,508.23 L446.3,509.62 L446.5,510.78 L446.7,511.74 L446.9,512.5 L447.1,513.09 L447.3,513.52 L447.5,513.82 L447.7,514.01 L447.9,514.12 L448.1,514.18 L448.3,514.2 L448.5,514.2 L448.7,514.2 L448.9,514.19 L449.1,514.17 L449.3,514.12 L449.5,514.02 L449.7,513.85 L449.9,513.61 L450.1,513.27 L450.3,512.81 L450.5,512.24 L450.7,511.52 L450.9,510.66 L451.1,509.65 L451.3,508.49 L451.5,507.16 L451.7,505.69 L451.9,504.07 L452.1,502.32 L452.2,501.4 L452.4,503.04 L452.6,504.58 L452.8,506 L453,507.31 L453.2,508.49 L453.4,509.55 L453.6,510.48 L453.8,511.29 L454,511.98 L454.2,512.55 L454.4,513.02 L454.6,513.39 L454.8,513.67 L455,513.87 L455.2,514.02 L455.4,514.11 L455.6,514.16 L455.8,514.19 L456,514.2 L456.2,514.2 L456.4,514.2 L456.6,514.19 L456.8,514.17 L457,514.13 L457.2,514.04 L457.4,513.89 L457.6,513.67 L457.8,513.37 L458,512.96 L458.2,512.43 L458.4,511.78 L458.6,510.99 L458.8,510.05 L459,508.96 L459.2,507.71 L459.4,506.3 L459.6,504.73 L459.8,503.01 L460,501.15 L460.2,499.15 L460.3,498.1 L460.5,500.32 L460.7,502.39 L460.9,504.3 L461.1,506.03 L461.3,507.57 L461.5,508.93 L461.7,510.11 L461.9,511.11 L462.1,511.94 L462.3,512.6 L462.5,513.13 L462.7,513.52 L462.9,513.8 L463.1,513.99 L463.3,514.1 L463.5,514.17 L463.7,514.19 L463.9,514.2 L464.1,514.2 L464.3,514.2 L464.5,514.18 L464.7,514.13 L464.9,514.04 L465.1,513.87 L465.3,513.6 L465.5,513.22 L465.7,512.71 L465.9,512.04 L466.1,511.2 L466.3,510.17 L466.5,508.94 L466.7,507.5 L466.9,505.86 L467.1,504.01 L467.3,501.95 L467.5,499.71 L467.7,497.28 L467.8,496 L468,498.51 L468.2,500.85 L468.4,503.01 L468.6,504.96 L468.8,506.71 L469,508.25 L469.2,509.58 L469.4,510.7 L469.6,511.64 L469.8,512.39 L470,512.99 L470.2,513.43 L470.4,513.75 L470.6,513.96 L470.8,514.09 L471,514.16 L471.2,514.19 L471.4,514.2 L471.6,514.2 L471.8,514.2 L472,514.18 L472.2,514.14 L472.4,514.06 L472.6,513.91 L472.8,513.68 L473,513.35 L473.2,512.91 L473.4,512.32 L473.6,511.59 L473.8,510.7 L474,509.63 L474.2,508.39 L474.4,506.96 L474.6,505.35 L474.8,503.57 L475,501.62 L475.2,499.51 L475.3,498.4 L475.5,500.47 L475.7,502.41 L475.9,504.21 L476.1,505.85 L476.3,507.33 L476.5,508.64 L476.7,509.8 L476.9,510.79 L477.1,511.63 L477.3,512.32 L477.5,512.88 L477.7,513.31 L477.9,513.64 L478.1,513.87 L478.3,514.03 L478.5,514.12 L478.7,514.17 L478.9,514.19 L479.1,514.2 L479.3,514.2 L479.5,514.2 L479.7,514.18 L479.9,514.15 L480.1,514.07 L480.3,513.93 L480.5,513.71 L480.7,513.4 L480.9,512.97 L481.1,512.41 L481.3,511.71 L481.5,510.85 L481.7,509.82 L481.9,508.61 L482.1,507.22 L482.3,505.65 L482.5,503.89 L482.7,501.96 L482.9,499.85 L483.1,497.59 L483.2,496.4 L483.4,498.8 L483.6,501.03 L483.8,503.1 L484,504.97 L484.2,506.66 L484.4,508.16 L484.6,509.46 L484.8,510.57 L485,511.5 L485.2,512.26 L485.4,512.86 L485.6,513.33 L485.8,513.66 L486,513.9 L486.2,514.05 L486.4,514.14 L486.6,514.18 L486.8,514.2 L487,514.2 L487.2,514.2 L487.4,514.19 L487.6,514.17 L487.8,514.11 L488,514 L488.2,513.83 L488.4,513.56 L488.6,513.2 L488.8,512.71 L489,512.08 L489.2,511.3 L489.4,510.36 L489.6,509.25 L489.8,507.97 L490,506.5 L490.2,504.86 L490.4,503.04 L490.6,501.06 L490.8,498.92 L490.9,497.8 L491.1,499.93 L491.3,501.92 L491.5,503.76 L491.7,505.45 L491.9,506.98 L492.1,508.34 L492.3,509.53 L492.5,510.56 L492.7,511.44 L492.9,512.17 L493.1,512.75 L493.3,513.22 L493.5,513.57 L493.7,513.82 L493.9,513.99 L494.1,514.1 L494.3,514.16 L494.5,514.19 L494.7,514.2 L494.9,514.2 L495.1,514.2 L495.3,514.19 L495.5,514.16 L495.7,514.09 L495.9,513.96 L496.1,513.76 L496.3,513.47 L496.5,513.06 L496.7,512.53 L496.9,511.84 L497.1,511 L497.3,509.99 L497.5,508.79 L497.7,507.41 L497.9,505.83 L498.1,504.06 L498.3,502.11 L498.5,499.97 L498.7,497.66 L498.9,495.2 L498.9,495.2 L499.1,497.66 L499.3,499.97 L499.5,502.11 L499.7,504.06 L499.9,505.83 L500.1,507.41 L500.3,508.79 L500.5,509.99 L500.7,511 L500.9,511.84 L501.1,512.53 L501.3,513.06 L501.5,513.47 L501.7,513.76 L501.9,513.96 L502.1,514.09 L502.3,514.16 L502.5,514.19 L502.7,514.2 L502.9,514.2 L506.2,511" fill="none" stroke="#1d8a50" stroke-width="1.05" stroke-linejoin="round" />
<text x="511.9" y="420.4" font-size="11" text-anchor="end" fill="#3a2a2a" font-weight="normal" >Run</text>
<text x="511.9" y="474.8" font-size="11.3" text-anchor="end" fill="#3a2a2a" font-weight="normal" >Walk</text>
<text x="505.6" y="528.3" font-size="10.7" text-anchor="end" fill="#3a2a2a" font-weight="normal" >Dumbbell Curl</text>
<text x="533.4" y="376.1" font-size="15.5" text-anchor="start" fill="#231818" font-weight="bold" >h</text>
<line x1="573.1" y1="374.6" x2="573.1" y2="533.1" stroke="#3c3c3c" stroke-width="1"/>
<line x1="573.1" y1="374.6" x2="576.1" y2="374.6" stroke="#3c3c3c" stroke-width="1"/>
<text x="568.1" y="379.4" font-size="12" text-anchor="end" fill="#231f20" font-weight="normal" >25</text>
<line x1="573.1" y1="405.2" x2="576.1" y2="405.2" stroke="#3c3c3c" stroke-width="1"/>
<text x="568.1" y="410" font-size="12" text-anchor="end" fill="#231f20" font-weight="normal" >20</text>
<line x1="573.1" y1="435.8" x2="576.1" y2="435.8" stroke="#3c3c3c" stroke-width="1"/>
<text x="568.1" y="440.6" font-size="12" text-anchor="end" fill="#231f20" font-weight="normal" >15</text>
<line x1="573.1" y1="466.4" x2="576.1" y2="466.4" stroke="#3c3c3c" stroke-width="1"/>
<text x="568.1" y="471.2" font-size="12" text-anchor="end" fill="#231f20" font-weight="normal" >10</text>
<line x1="573.1" y1="497" x2="576.1" y2="497" stroke="#3c3c3c" stroke-width="1"/>
<text x="568.1" y="501.8" font-size="12" text-anchor="end" fill="#231f20" font-weight="normal" >5</text>
<line x1="573.1" y1="527.6" x2="576.1" y2="527.6" stroke="#3c3c3c" stroke-width="1"/>
<text x="568.1" y="532.4" font-size="12" text-anchor="end" fill="#231f20" font-weight="normal" >0</text>
<line x1="573.1" y1="512.3" x2="574.7" y2="512.3" stroke="#3c3c3c" stroke-width="1"/>
<line x1="573.1" y1="481.7" x2="574.7" y2="481.7" stroke="#3c3c3c" stroke-width="1"/>
<line x1="573.1" y1="451.1" x2="574.7" y2="451.1" stroke="#3c3c3c" stroke-width="1"/>
<line x1="573.1" y1="420.5" x2="574.7" y2="420.5" stroke="#3c3c3c" stroke-width="1"/>
<line x1="573.1" y1="389.9" x2="574.7" y2="389.9" stroke="#3c3c3c" stroke-width="1"/>
<line x1="573.1" y1="533.1" x2="679.2" y2="533.1" stroke="#3c3c3c" stroke-width="1"/>
<line x1="574.5" y1="533.1" x2="574.5" y2="530.1" stroke="#3c3c3c" stroke-width="1"/>
<text x="574.5" y="548.3" font-size="12" text-anchor="middle" fill="#231f20" font-weight="normal" >0</text>
<line x1="600.48" y1="533.1" x2="600.48" y2="530.1" stroke="#3c3c3c" stroke-width="1"/>
<text x="600.48" y="548.3" font-size="12" text-anchor="middle" fill="#231f20" font-weight="normal" >10</text>
<line x1="626.45" y1="533.1" x2="626.45" y2="530.1" stroke="#3c3c3c" stroke-width="1"/>
<text x="626.45" y="548.3" font-size="12" text-anchor="middle" fill="#231f20" font-weight="normal" >20</text>
<line x1="652.42" y1="533.1" x2="652.42" y2="530.1" stroke="#3c3c3c" stroke-width="1"/>
<text x="652.42" y="548.3" font-size="12" text-anchor="middle" fill="#231f20" font-weight="normal" >30</text>
<line x1="678.4" y1="533.1" x2="678.4" y2="530.1" stroke="#3c3c3c" stroke-width="1"/>
<text x="678.4" y="548.3" font-size="12" text-anchor="middle" fill="#231f20" font-weight="normal" >40</text>
<line x1="587.49" y1="533.1" x2="587.49" y2="531.5" stroke="#3c3c3c" stroke-width="1"/>
<line x1="613.46" y1="533.1" x2="613.46" y2="531.5" stroke="#3c3c3c" stroke-width="1"/>
<line x1="639.44" y1="533.1" x2="639.44" y2="531.5" stroke="#3c3c3c" stroke-width="1"/>
<line x1="665.41" y1="533.1" x2="665.41" y2="531.5" stroke="#3c3c3c" stroke-width="1"/>
<text x="625.5" y="562.3" font-size="12" text-anchor="middle" fill="#231f20" font-weight="normal" >Time (s)</text>
<text x="0" y="0" font-size="12" text-anchor="middle" fill="#231f20" transform="translate(544.3,453.8) rotate(-90)">Voltage (V)</text>
<path d="M574.4,526.7 C574.8,522.85 575.87,511.4 576.8,503.6 C577.73,495.8 578.73,488.12 580,479.9 C581.27,471.68 582.78,462.4 584.4,454.3 C586.02,446.2 587.93,438.38 589.7,431.3 C591.47,424.22 593.23,417.1 595,411.8 C596.77,406.5 598.68,402.2 600.3,399.5 C601.92,396.8 603.23,396.5 604.7,395.6 C606.17,394.7 606.88,394.25 609.1,394.1 C611.32,393.95 613.87,394.48 618,394.7 C622.13,394.92 628.3,395.13 633.9,395.4 C639.5,395.67 646.58,396 651.6,396.3 C656.62,396.6 659.58,397.03 664,397.2 C668.42,397.37 675.75,397.28 678.1,397.3" fill="none" stroke="#ee8a3a" stroke-width="1.1"/>
<path d="M574.4,526.7 C574.8,524.72 575.87,519.17 576.8,514.8 C577.73,510.43 578.82,505.02 580,500.5 C581.18,495.98 582.52,491.53 583.9,487.7 C585.28,483.87 586.45,481.3 588.3,477.5 C590.15,473.7 592.7,468.77 595,464.9 C597.3,461.03 599.75,457.55 602.1,454.3 C604.45,451.05 606.45,448.65 609.1,445.4 C611.75,442.15 614.75,438.33 618,434.8 C621.25,431.27 625.07,427.28 628.6,424.2 C632.13,421.12 635.67,418.52 639.2,416.3 C642.73,414.08 646.27,412.38 649.8,410.9 C653.33,409.42 656.87,408.28 660.4,407.4 C663.93,406.52 668.05,405.98 671,405.6 C673.95,405.22 676.92,405.18 678.1,405.1" fill="none" stroke="#3a9bd5" stroke-width="1.1"/>
<path d="M574.4,526.7 C575.07,525.25 576.95,521.05 578.4,518 C579.85,514.95 581.52,511.32 583.1,508.4 C584.68,505.48 586.17,502.88 587.9,500.5 C589.63,498.12 591.9,495.7 593.5,494.1 C595.1,492.5 596.18,491.83 597.5,490.9 C598.82,489.97 600.22,489.68 601.4,488.5 C602.58,487.32 603.13,485.25 604.6,483.8 C606.07,482.35 608.47,481 610.2,479.8 C611.93,478.6 613.42,477.73 615,476.6 C616.58,475.47 618.38,473.93 619.7,473 C621.02,472.07 621.42,472.2 622.9,471 C624.38,469.8 625.88,467.42 628.6,465.8 C631.32,464.18 636.25,462.63 639.2,461.3 C642.15,459.97 643.35,458.82 646.3,457.8 C649.25,456.78 653.37,455.93 656.9,455.2 C660.43,454.47 663.97,454.05 667.5,453.4 C671.03,452.75 676.33,451.65 678.1,451.3" fill="none" stroke="#1f8a4c" stroke-width="1.1"/>
<text x="616.9" y="406.8" font-size="12" text-anchor="start" fill="#3a2a2a" font-weight="normal" >Run</text>
<text x="653" y="436" font-size="12" text-anchor="middle" fill="#3a2a2a" font-weight="normal" >Walk</text>
<text x="686" y="497.9" font-size="12.1" text-anchor="end" fill="#3a2a2a" font-weight="normal" >Dumbbell Curl</text>
</svg>
</body></html>
